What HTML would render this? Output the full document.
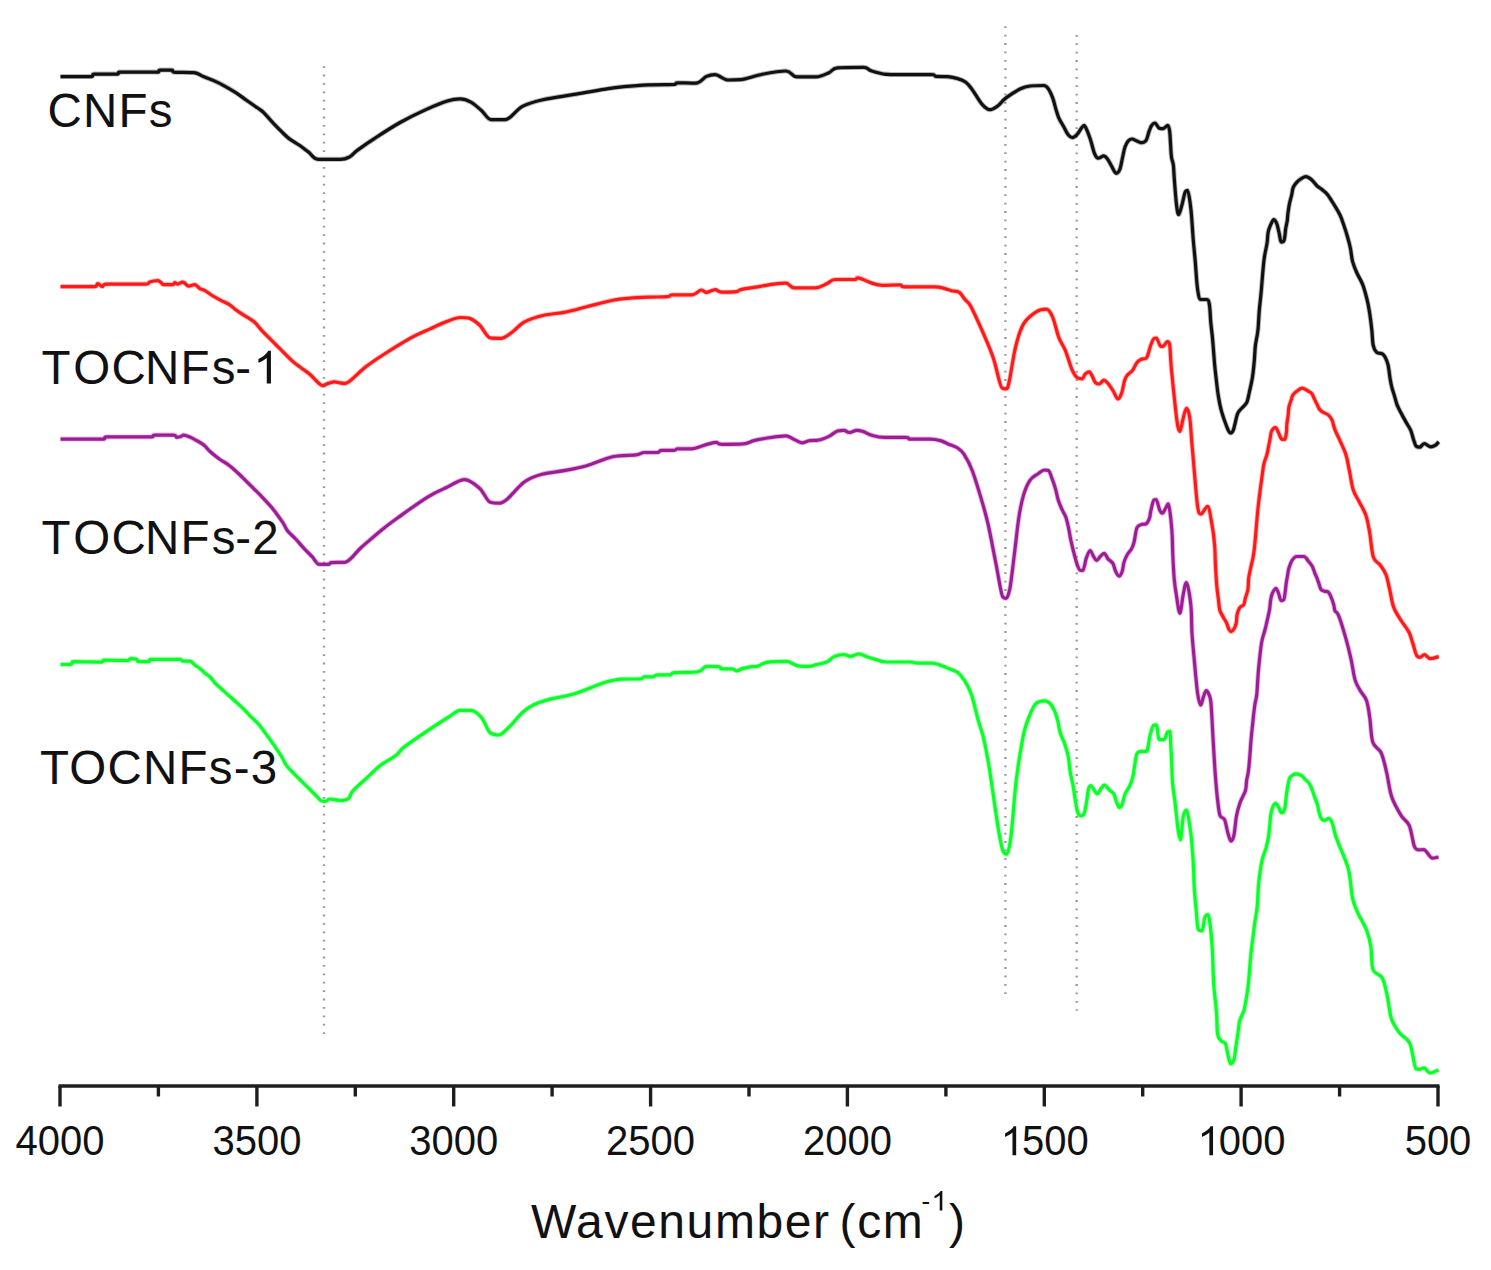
<!DOCTYPE html>
<html><head><meta charset="utf-8"><style>
html,body{margin:0;padding:0;background:#fff;}
body{width:1491px;height:1270px;overflow:hidden;}
svg{display:block;}
text{font-family:"Liberation Sans",sans-serif;fill:#111;}
.tk{font-size:40px;}
.lb{font-size:47.5px;letter-spacing:1.2px;}
.ttl{font-size:48px;letter-spacing:1.6px;word-spacing:-6px;}
.sup{font-size:26px;letter-spacing:0.8px;}
.hid{fill:none;stroke:none;}
</style></head><body>
<svg width="1491" height="1270" viewBox="0 0 1491 1270">
<rect width="1491" height="1270" fill="#fff"/>
<line x1="324" y1="66.2" x2="324" y2="1034" stroke="#9a9a9a" stroke-width="2.4" stroke-dasharray="1.8 6.6"/>
<line x1="1005.4" y1="26.3" x2="1005.4" y2="994.2" stroke="#9a9a9a" stroke-width="2.4" stroke-dasharray="1.8 6.6"/>
<line x1="1076.7" y1="34.9" x2="1076.7" y2="1010.8" stroke="#9a9a9a" stroke-width="2.4" stroke-dasharray="1.8 6.6"/>
<path fill="none" stroke="#111" stroke-opacity="0.3" stroke-width="5.0" stroke-linejoin="round" stroke-linecap="butt" d="M60.5,76.6 C70.7,76.6 88.2,76.6 91.2,76.6 C94.2,76.6 91.2,74.1 94.2,74.1 C97.2,74.1 115.4,74.1 117.4,74.1 C119.4,74.1 117.4,72.1 119.4,72.1 C121.4,72.1 155.1,72.1 157.6,72.1 C160.1,72.1 157.8,70.1 160.1,70.1 C162.4,70.1 169.7,70.1 171.7,70.1 C173.7,70.1 171.7,71.7 173.7,72.1 C175.7,72.5 188.8,72.1 193.8,72.6 C198.8,73.1 200.2,75.2 203.6,76.6 C207.0,78.0 210.7,79.3 214.3,80.9 C217.9,82.5 221.5,84.3 225.1,86.3 C228.7,88.3 232.2,90.4 235.8,92.7 C239.4,95.0 242.9,97.7 246.5,100.2 C250.1,102.7 254.4,105.7 257.3,107.8 C260.2,109.9 260.9,109.8 263.7,112.6 C266.5,115.4 271.2,121.0 274.4,124.4 C277.6,127.8 280.5,130.6 283.0,133.0 C285.5,135.4 286.6,136.8 289.5,138.9 C292.4,141.0 297.0,143.6 300.2,145.8 C303.4,148.0 305.8,150.0 308.8,152.3 C311.8,154.5 313.1,159.3 318.4,159.3 C323.7,159.3 335.3,159.3 340.5,159.3 C345.7,159.3 346.9,158.3 349.7,156.8 C352.5,155.3 353.1,153.4 357.2,150.4 C361.3,147.4 367.1,143.2 374.3,138.6 C381.5,133.9 391.5,127.3 400.1,122.5 C408.7,117.7 418.0,113.2 425.9,109.6 C433.8,106.0 441.6,102.8 447.3,101.0 C453.0,99.2 456.3,98.9 460.2,98.9 C464.1,98.9 467.3,100.1 470.9,102.1 C474.5,104.1 478.3,107.8 481.7,110.7 C485.1,113.6 487.4,119.7 491.3,119.7 C495.2,119.7 500.1,119.7 505.3,119.7 C510.5,119.7 516.0,109.8 522.4,106.4 C528.8,103.0 534.9,101.5 543.9,99.5 C552.9,97.5 565.4,96.0 576.1,94.2 C586.8,92.4 600.4,89.8 608.3,88.6 C616.2,87.3 616.6,87.3 623.3,86.7 C630.0,86.1 640.1,85.3 648.6,84.9 C657.1,84.5 671.0,84.8 674.3,84.5 C677.6,84.2 674.3,82.8 677.6,82.8 C680.9,82.8 691.0,83.2 695.8,83.2 C700.6,83.2 703.3,77.8 706.5,76.4 C709.7,75.0 711.5,74.6 715.1,74.6 C718.7,74.6 723.7,80.0 728.0,80.0 C732.3,80.0 735.2,80.0 740.9,79.6 C746.6,79.2 754.8,75.6 762.3,74.2 C769.8,72.8 780.3,71.0 786.0,71.0 C791.7,71.0 791.7,76.8 796.7,76.8 C801.7,76.8 810.6,76.8 816.0,76.8 C821.4,76.8 825.3,74.2 828.9,72.7 C832.5,71.2 831.8,68.3 837.5,67.8 C843.2,67.3 857.5,67.3 863.2,67.3 C868.9,67.3 867.1,69.8 871.8,71.0 C876.4,72.2 881.1,74.6 891.1,74.6 C901.1,74.6 927.6,74.6 931.9,74.6 C936.2,74.6 933.5,76.1 936.2,76.4 C938.9,76.7 944.4,76.4 948.0,76.7 C951.6,77.0 954.7,77.7 957.7,78.6 C960.7,79.5 963.4,80.5 965.8,82.3 C968.2,84.1 969.5,86.0 972.2,89.6 C974.9,93.2 979.0,100.8 981.9,104.1 C984.8,107.4 987.2,109.7 989.9,109.7 C992.6,109.7 995.3,107.7 998.0,105.7 C1000.7,103.7 1002.2,100.7 1006.0,97.9 C1009.8,95.1 1016.5,90.8 1020.5,88.8 C1024.5,86.8 1026.2,86.5 1030.1,86.0 C1034.0,85.5 1040.6,85.5 1043.8,85.5 C1047.0,85.5 1047.9,88.3 1049.4,90.6 C1051.0,92.9 1052.0,96.0 1053.1,99.1 C1054.2,102.2 1055.0,106.3 1056.0,109.4 C1057.0,112.5 1057.5,115.1 1058.8,117.9 C1060.0,120.7 1061.9,123.5 1063.5,126.3 C1065.1,129.1 1066.7,132.9 1068.2,134.8 C1069.7,136.7 1070.8,137.6 1072.4,137.6 C1074.0,137.6 1076.1,135.4 1077.6,133.8 C1079.1,132.2 1080.2,129.6 1081.3,128.2 C1082.4,126.8 1083.2,125.4 1084.1,125.4 C1085.0,125.4 1085.8,127.6 1086.9,130.1 C1088.0,132.6 1089.4,136.5 1090.7,140.4 C1092.0,144.3 1093.2,150.5 1094.5,153.5 C1095.8,156.5 1096.7,158.2 1098.2,158.2 C1099.8,158.2 1102.2,155.9 1103.8,155.9 C1105.4,155.9 1106.3,157.6 1107.6,159.2 C1108.9,160.8 1110.0,163.3 1111.4,165.7 C1112.8,168.0 1114.7,173.3 1116.1,173.3 C1117.5,173.3 1118.7,172.2 1119.8,169.5 C1120.9,166.8 1121.7,161.0 1122.6,157.3 C1123.5,153.5 1124.0,149.7 1125.0,147.0 C1126.0,144.3 1127.1,142.2 1128.3,140.9 C1129.5,139.6 1130.6,139.0 1132.0,139.0 C1133.4,139.0 1135.1,140.3 1136.7,140.9 C1138.3,141.5 1139.8,142.7 1141.4,142.7 C1143.0,142.7 1144.8,142.2 1146.1,140.4 C1147.3,138.6 1148.0,134.4 1148.9,131.9 C1149.8,129.4 1150.7,126.9 1151.7,125.4 C1152.7,123.9 1153.8,123.0 1155.0,123.0 C1156.2,123.0 1157.9,127.7 1159.2,128.2 C1160.5,128.7 1161.6,128.7 1163.0,128.7 C1164.4,128.7 1166.6,125.4 1167.7,125.4 C1168.8,125.4 1169.1,128.0 1169.6,131.0 C1170.1,134.0 1170.2,138.8 1170.5,143.2 C1170.8,147.6 1171.0,153.7 1171.5,157.3 C1172.0,160.9 1172.8,161.2 1173.3,164.8 C1173.8,168.4 1173.8,172.2 1174.3,178.9 C1174.8,185.6 1175.8,198.8 1176.5,204.7 C1177.2,210.6 1177.8,214.6 1178.7,214.6 C1179.6,214.6 1180.9,208.5 1182.0,204.7 C1183.1,200.8 1184.5,192.6 1185.4,191.5 C1186.3,190.4 1186.7,190.4 1187.6,190.4 C1188.5,190.4 1190.0,201.2 1190.9,209.1 C1191.8,217.0 1192.4,229.0 1193.1,237.8 C1193.8,246.6 1194.6,253.6 1195.3,262.0 C1196.0,270.4 1196.6,282.2 1197.5,288.5 C1198.4,294.8 1199.1,299.5 1200.7,299.5 C1202.3,299.5 1205.5,299.5 1207.0,299.5 C1208.5,299.5 1208.9,301.5 1209.5,305.2 C1210.1,308.9 1210.2,315.8 1210.7,321.5 C1211.2,327.2 1212.0,332.3 1212.6,339.2 C1213.2,346.1 1213.9,356.2 1214.5,363.1 C1215.1,370.0 1215.8,375.3 1216.4,380.7 C1217.0,386.2 1217.5,390.8 1218.3,395.8 C1219.1,400.8 1220.0,405.9 1221.4,410.9 C1222.8,415.9 1225.0,422.3 1226.5,426.0 C1228.0,429.7 1229.1,433.0 1230.3,433.0 C1231.5,433.0 1232.2,432.9 1233.4,429.8 C1234.6,426.8 1236.1,418.1 1237.2,414.7 C1238.3,411.4 1238.7,411.7 1240.3,409.7 C1241.9,407.7 1245.1,405.4 1246.6,402.7 C1248.1,400.0 1248.1,397.4 1249.1,393.3 C1250.0,389.2 1251.4,383.5 1252.3,378.2 C1253.2,373.0 1253.7,367.2 1254.2,361.8 C1254.7,356.4 1254.8,350.7 1255.4,345.5 C1256.0,340.3 1257.3,336.1 1257.9,330.4 C1258.5,324.7 1258.7,317.8 1259.2,311.5 C1259.7,305.2 1260.3,301.2 1261.1,292.6 C1261.9,284.0 1263.0,268.2 1264.0,260.0 C1265.0,251.8 1266.3,248.2 1267.0,243.6 C1267.7,239.0 1267.6,235.3 1268.1,232.4 C1268.6,229.5 1269.1,228.5 1270.0,226.4 C1270.9,224.3 1272.6,219.6 1273.7,219.6 C1274.8,219.6 1275.8,221.3 1276.7,223.4 C1277.6,225.5 1278.2,229.3 1279.0,232.4 C1279.8,235.5 1280.3,242.1 1281.2,242.1 C1282.1,242.1 1283.5,242.1 1284.2,239.9 C1285.0,237.7 1285.2,231.7 1285.7,228.6 C1286.2,225.5 1286.8,223.6 1287.2,221.1 C1287.6,218.6 1287.5,216.6 1287.9,213.7 C1288.3,210.8 1288.8,207.0 1289.4,203.9 C1290.0,200.8 1291.1,197.6 1291.7,194.9 C1292.3,192.2 1292.3,189.6 1293.2,187.5 C1294.1,185.4 1295.5,183.7 1296.9,182.2 C1298.3,180.7 1299.9,179.4 1301.4,178.5 C1302.9,177.6 1304.2,176.6 1305.9,176.6 C1307.7,176.6 1310.0,178.4 1311.9,180.0 C1313.8,181.6 1315.4,184.4 1317.1,186.0 C1318.8,187.6 1320.2,188.0 1322.0,189.5 C1323.8,191.0 1325.8,192.3 1327.8,194.9 C1329.8,197.5 1332.2,201.6 1334.2,204.9 C1336.2,208.2 1338.2,211.3 1339.9,214.8 C1341.6,218.3 1342.8,222.3 1344.1,226.1 C1345.4,229.9 1346.6,233.7 1347.7,237.5 C1348.8,241.3 1349.7,244.8 1350.5,248.8 C1351.3,252.8 1351.5,257.6 1352.6,261.6 C1353.7,265.6 1355.2,269.2 1356.9,273.0 C1358.6,276.8 1360.9,280.1 1362.6,284.3 C1364.2,288.6 1365.6,293.8 1366.8,298.5 C1368.0,303.2 1368.8,307.5 1369.6,312.7 C1370.4,317.9 1371.2,324.3 1371.8,329.7 C1372.4,335.1 1372.4,341.5 1373.2,345.3 C1374.0,349.1 1375.2,351.0 1376.7,352.4 C1378.2,353.8 1381.0,353.0 1382.4,353.8 C1383.8,354.6 1384.2,355.4 1385.2,357.3 C1386.2,359.2 1387.3,361.7 1388.1,365.1 C1388.9,368.6 1389.4,374.3 1390.0,378.0 C1390.6,381.7 1391.0,384.1 1391.8,387.1 C1392.5,390.1 1393.6,393.1 1394.5,396.1 C1395.4,399.1 1396.0,402.2 1397.2,405.2 C1398.4,408.2 1400.2,411.3 1401.7,414.2 C1403.2,417.1 1404.7,419.7 1406.2,422.4 C1407.7,425.1 1409.6,427.6 1410.8,430.5 C1412.0,433.4 1412.6,436.9 1413.5,439.5 C1414.4,442.1 1415.2,445.4 1416.2,446.3 C1417.2,447.2 1418.5,447.2 1419.8,447.2 C1421.1,447.2 1422.5,443.6 1424.3,443.6 C1426.1,443.6 1428.9,446.8 1430.7,446.8 C1432.5,446.8 1433.9,446.2 1435.2,445.4 C1436.5,444.6 1437.6,443.0 1438.8,441.8"/>
<path fill="none" stroke="#111" stroke-width="3.2" stroke-linejoin="round" stroke-linecap="butt" d="M60.5,76.6 C70.7,76.6 88.2,76.6 91.2,76.6 C94.2,76.6 91.2,74.1 94.2,74.1 C97.2,74.1 115.4,74.1 117.4,74.1 C119.4,74.1 117.4,72.1 119.4,72.1 C121.4,72.1 155.1,72.1 157.6,72.1 C160.1,72.1 157.8,70.1 160.1,70.1 C162.4,70.1 169.7,70.1 171.7,70.1 C173.7,70.1 171.7,71.7 173.7,72.1 C175.7,72.5 188.8,72.1 193.8,72.6 C198.8,73.1 200.2,75.2 203.6,76.6 C207.0,78.0 210.7,79.3 214.3,80.9 C217.9,82.5 221.5,84.3 225.1,86.3 C228.7,88.3 232.2,90.4 235.8,92.7 C239.4,95.0 242.9,97.7 246.5,100.2 C250.1,102.7 254.4,105.7 257.3,107.8 C260.2,109.9 260.9,109.8 263.7,112.6 C266.5,115.4 271.2,121.0 274.4,124.4 C277.6,127.8 280.5,130.6 283.0,133.0 C285.5,135.4 286.6,136.8 289.5,138.9 C292.4,141.0 297.0,143.6 300.2,145.8 C303.4,148.0 305.8,150.0 308.8,152.3 C311.8,154.5 313.1,159.3 318.4,159.3 C323.7,159.3 335.3,159.3 340.5,159.3 C345.7,159.3 346.9,158.3 349.7,156.8 C352.5,155.3 353.1,153.4 357.2,150.4 C361.3,147.4 367.1,143.2 374.3,138.6 C381.5,133.9 391.5,127.3 400.1,122.5 C408.7,117.7 418.0,113.2 425.9,109.6 C433.8,106.0 441.6,102.8 447.3,101.0 C453.0,99.2 456.3,98.9 460.2,98.9 C464.1,98.9 467.3,100.1 470.9,102.1 C474.5,104.1 478.3,107.8 481.7,110.7 C485.1,113.6 487.4,119.7 491.3,119.7 C495.2,119.7 500.1,119.7 505.3,119.7 C510.5,119.7 516.0,109.8 522.4,106.4 C528.8,103.0 534.9,101.5 543.9,99.5 C552.9,97.5 565.4,96.0 576.1,94.2 C586.8,92.4 600.4,89.8 608.3,88.6 C616.2,87.3 616.6,87.3 623.3,86.7 C630.0,86.1 640.1,85.3 648.6,84.9 C657.1,84.5 671.0,84.8 674.3,84.5 C677.6,84.2 674.3,82.8 677.6,82.8 C680.9,82.8 691.0,83.2 695.8,83.2 C700.6,83.2 703.3,77.8 706.5,76.4 C709.7,75.0 711.5,74.6 715.1,74.6 C718.7,74.6 723.7,80.0 728.0,80.0 C732.3,80.0 735.2,80.0 740.9,79.6 C746.6,79.2 754.8,75.6 762.3,74.2 C769.8,72.8 780.3,71.0 786.0,71.0 C791.7,71.0 791.7,76.8 796.7,76.8 C801.7,76.8 810.6,76.8 816.0,76.8 C821.4,76.8 825.3,74.2 828.9,72.7 C832.5,71.2 831.8,68.3 837.5,67.8 C843.2,67.3 857.5,67.3 863.2,67.3 C868.9,67.3 867.1,69.8 871.8,71.0 C876.4,72.2 881.1,74.6 891.1,74.6 C901.1,74.6 927.6,74.6 931.9,74.6 C936.2,74.6 933.5,76.1 936.2,76.4 C938.9,76.7 944.4,76.4 948.0,76.7 C951.6,77.0 954.7,77.7 957.7,78.6 C960.7,79.5 963.4,80.5 965.8,82.3 C968.2,84.1 969.5,86.0 972.2,89.6 C974.9,93.2 979.0,100.8 981.9,104.1 C984.8,107.4 987.2,109.7 989.9,109.7 C992.6,109.7 995.3,107.7 998.0,105.7 C1000.7,103.7 1002.2,100.7 1006.0,97.9 C1009.8,95.1 1016.5,90.8 1020.5,88.8 C1024.5,86.8 1026.2,86.5 1030.1,86.0 C1034.0,85.5 1040.6,85.5 1043.8,85.5 C1047.0,85.5 1047.9,88.3 1049.4,90.6 C1051.0,92.9 1052.0,96.0 1053.1,99.1 C1054.2,102.2 1055.0,106.3 1056.0,109.4 C1057.0,112.5 1057.5,115.1 1058.8,117.9 C1060.0,120.7 1061.9,123.5 1063.5,126.3 C1065.1,129.1 1066.7,132.9 1068.2,134.8 C1069.7,136.7 1070.8,137.6 1072.4,137.6 C1074.0,137.6 1076.1,135.4 1077.6,133.8 C1079.1,132.2 1080.2,129.6 1081.3,128.2 C1082.4,126.8 1083.2,125.4 1084.1,125.4 C1085.0,125.4 1085.8,127.6 1086.9,130.1 C1088.0,132.6 1089.4,136.5 1090.7,140.4 C1092.0,144.3 1093.2,150.5 1094.5,153.5 C1095.8,156.5 1096.7,158.2 1098.2,158.2 C1099.8,158.2 1102.2,155.9 1103.8,155.9 C1105.4,155.9 1106.3,157.6 1107.6,159.2 C1108.9,160.8 1110.0,163.3 1111.4,165.7 C1112.8,168.0 1114.7,173.3 1116.1,173.3 C1117.5,173.3 1118.7,172.2 1119.8,169.5 C1120.9,166.8 1121.7,161.0 1122.6,157.3 C1123.5,153.5 1124.0,149.7 1125.0,147.0 C1126.0,144.3 1127.1,142.2 1128.3,140.9 C1129.5,139.6 1130.6,139.0 1132.0,139.0 C1133.4,139.0 1135.1,140.3 1136.7,140.9 C1138.3,141.5 1139.8,142.7 1141.4,142.7 C1143.0,142.7 1144.8,142.2 1146.1,140.4 C1147.3,138.6 1148.0,134.4 1148.9,131.9 C1149.8,129.4 1150.7,126.9 1151.7,125.4 C1152.7,123.9 1153.8,123.0 1155.0,123.0 C1156.2,123.0 1157.9,127.7 1159.2,128.2 C1160.5,128.7 1161.6,128.7 1163.0,128.7 C1164.4,128.7 1166.6,125.4 1167.7,125.4 C1168.8,125.4 1169.1,128.0 1169.6,131.0 C1170.1,134.0 1170.2,138.8 1170.5,143.2 C1170.8,147.6 1171.0,153.7 1171.5,157.3 C1172.0,160.9 1172.8,161.2 1173.3,164.8 C1173.8,168.4 1173.8,172.2 1174.3,178.9 C1174.8,185.6 1175.8,198.8 1176.5,204.7 C1177.2,210.6 1177.8,214.6 1178.7,214.6 C1179.6,214.6 1180.9,208.5 1182.0,204.7 C1183.1,200.8 1184.5,192.6 1185.4,191.5 C1186.3,190.4 1186.7,190.4 1187.6,190.4 C1188.5,190.4 1190.0,201.2 1190.9,209.1 C1191.8,217.0 1192.4,229.0 1193.1,237.8 C1193.8,246.6 1194.6,253.6 1195.3,262.0 C1196.0,270.4 1196.6,282.2 1197.5,288.5 C1198.4,294.8 1199.1,299.5 1200.7,299.5 C1202.3,299.5 1205.5,299.5 1207.0,299.5 C1208.5,299.5 1208.9,301.5 1209.5,305.2 C1210.1,308.9 1210.2,315.8 1210.7,321.5 C1211.2,327.2 1212.0,332.3 1212.6,339.2 C1213.2,346.1 1213.9,356.2 1214.5,363.1 C1215.1,370.0 1215.8,375.3 1216.4,380.7 C1217.0,386.2 1217.5,390.8 1218.3,395.8 C1219.1,400.8 1220.0,405.9 1221.4,410.9 C1222.8,415.9 1225.0,422.3 1226.5,426.0 C1228.0,429.7 1229.1,433.0 1230.3,433.0 C1231.5,433.0 1232.2,432.9 1233.4,429.8 C1234.6,426.8 1236.1,418.1 1237.2,414.7 C1238.3,411.4 1238.7,411.7 1240.3,409.7 C1241.9,407.7 1245.1,405.4 1246.6,402.7 C1248.1,400.0 1248.1,397.4 1249.1,393.3 C1250.0,389.2 1251.4,383.5 1252.3,378.2 C1253.2,373.0 1253.7,367.2 1254.2,361.8 C1254.7,356.4 1254.8,350.7 1255.4,345.5 C1256.0,340.3 1257.3,336.1 1257.9,330.4 C1258.5,324.7 1258.7,317.8 1259.2,311.5 C1259.7,305.2 1260.3,301.2 1261.1,292.6 C1261.9,284.0 1263.0,268.2 1264.0,260.0 C1265.0,251.8 1266.3,248.2 1267.0,243.6 C1267.7,239.0 1267.6,235.3 1268.1,232.4 C1268.6,229.5 1269.1,228.5 1270.0,226.4 C1270.9,224.3 1272.6,219.6 1273.7,219.6 C1274.8,219.6 1275.8,221.3 1276.7,223.4 C1277.6,225.5 1278.2,229.3 1279.0,232.4 C1279.8,235.5 1280.3,242.1 1281.2,242.1 C1282.1,242.1 1283.5,242.1 1284.2,239.9 C1285.0,237.7 1285.2,231.7 1285.7,228.6 C1286.2,225.5 1286.8,223.6 1287.2,221.1 C1287.6,218.6 1287.5,216.6 1287.9,213.7 C1288.3,210.8 1288.8,207.0 1289.4,203.9 C1290.0,200.8 1291.1,197.6 1291.7,194.9 C1292.3,192.2 1292.3,189.6 1293.2,187.5 C1294.1,185.4 1295.5,183.7 1296.9,182.2 C1298.3,180.7 1299.9,179.4 1301.4,178.5 C1302.9,177.6 1304.2,176.6 1305.9,176.6 C1307.7,176.6 1310.0,178.4 1311.9,180.0 C1313.8,181.6 1315.4,184.4 1317.1,186.0 C1318.8,187.6 1320.2,188.0 1322.0,189.5 C1323.8,191.0 1325.8,192.3 1327.8,194.9 C1329.8,197.5 1332.2,201.6 1334.2,204.9 C1336.2,208.2 1338.2,211.3 1339.9,214.8 C1341.6,218.3 1342.8,222.3 1344.1,226.1 C1345.4,229.9 1346.6,233.7 1347.7,237.5 C1348.8,241.3 1349.7,244.8 1350.5,248.8 C1351.3,252.8 1351.5,257.6 1352.6,261.6 C1353.7,265.6 1355.2,269.2 1356.9,273.0 C1358.6,276.8 1360.9,280.1 1362.6,284.3 C1364.2,288.6 1365.6,293.8 1366.8,298.5 C1368.0,303.2 1368.8,307.5 1369.6,312.7 C1370.4,317.9 1371.2,324.3 1371.8,329.7 C1372.4,335.1 1372.4,341.5 1373.2,345.3 C1374.0,349.1 1375.2,351.0 1376.7,352.4 C1378.2,353.8 1381.0,353.0 1382.4,353.8 C1383.8,354.6 1384.2,355.4 1385.2,357.3 C1386.2,359.2 1387.3,361.7 1388.1,365.1 C1388.9,368.6 1389.4,374.3 1390.0,378.0 C1390.6,381.7 1391.0,384.1 1391.8,387.1 C1392.5,390.1 1393.6,393.1 1394.5,396.1 C1395.4,399.1 1396.0,402.2 1397.2,405.2 C1398.4,408.2 1400.2,411.3 1401.7,414.2 C1403.2,417.1 1404.7,419.7 1406.2,422.4 C1407.7,425.1 1409.6,427.6 1410.8,430.5 C1412.0,433.4 1412.6,436.9 1413.5,439.5 C1414.4,442.1 1415.2,445.4 1416.2,446.3 C1417.2,447.2 1418.5,447.2 1419.8,447.2 C1421.1,447.2 1422.5,443.6 1424.3,443.6 C1426.1,443.6 1428.9,446.8 1430.7,446.8 C1432.5,446.8 1433.9,446.2 1435.2,445.4 C1436.5,444.6 1437.6,443.0 1438.8,441.8"/>
<path fill="none" stroke="#ff1a1a" stroke-opacity="0.3" stroke-width="5.0" stroke-linejoin="round" stroke-linecap="butt" d="M60.5,286.6 C71.7,286.6 90.6,286.6 94.2,286.6 C97.8,286.6 96.5,283.6 97.8,283.6 C99.1,283.6 100.9,286.6 102.3,286.6 C103.7,286.6 102.3,284.1 106.3,284.1 C110.3,284.1 143.4,284.1 146.5,284.1 C149.6,284.1 147.8,282.7 149.6,282.1 C151.4,281.5 155.6,280.6 157.6,280.6 C159.6,280.6 160.6,282.4 161.6,283.1 C162.6,283.8 161.8,284.6 163.7,284.6 C165.5,284.6 170.9,284.6 172.7,284.6 C174.5,284.6 173.9,282.6 174.7,282.6 C175.5,282.6 176.3,284.1 177.7,284.1 C179.0,284.1 181.0,282.1 182.8,282.1 C184.7,282.1 186.8,286.1 188.8,286.1 C190.8,286.1 193.0,284.6 194.8,284.6 C196.7,284.6 198.2,287.6 199.9,288.6 C201.6,289.6 202.9,289.5 205.0,290.6 C207.1,291.8 209.6,293.9 212.2,295.5 C214.8,297.1 217.9,298.8 220.8,300.3 C223.7,301.8 227.1,303.2 229.4,304.6 C231.7,306.0 232.6,307.3 234.7,308.9 C236.8,310.5 239.0,312.1 242.2,314.2 C245.4,316.3 250.8,319.0 254.0,321.7 C257.2,324.4 258.7,327.2 261.6,330.3 C264.5,333.4 268.2,336.9 271.2,340.0 C274.2,343.1 276.2,345.0 279.8,348.6 C283.4,352.2 289.1,358.2 292.7,361.4 C296.3,364.6 298.4,365.8 301.3,367.9 C304.2,370.1 307.0,371.8 309.8,374.3 C312.6,376.8 316.2,381.0 318.4,382.9 C320.5,384.8 321.1,385.6 322.7,385.6 C324.3,385.6 326.1,384.0 328.1,383.4 C330.1,382.8 332.5,381.8 334.5,381.8 C336.5,381.8 338.3,382.6 340.0,382.9 C341.7,383.2 343.6,383.4 344.8,383.4 C346.1,383.4 344.8,383.4 347.5,382.5 C350.2,381.6 359.9,371.4 365.8,366.8 C371.7,362.2 375.4,359.8 382.9,355.0 C390.4,350.2 402.9,342.2 410.8,337.9 C418.7,333.6 424.0,331.7 430.1,328.9 C436.2,326.1 442.3,323.2 447.3,321.3 C452.3,319.4 456.6,317.5 460.2,317.5 C463.8,317.5 465.6,317.5 468.8,318.1 C472.0,318.7 475.9,321.7 479.5,325.0 C483.1,328.3 486.6,337.5 490.2,337.9 C493.8,338.3 497.4,338.3 501.0,338.3 C504.6,338.3 507.8,335.2 511.7,332.5 C515.6,329.8 519.2,324.7 524.6,321.8 C530.0,318.9 537.1,316.9 543.9,315.3 C550.7,313.7 558.2,313.5 565.4,312.1 C572.5,310.7 578.9,308.7 586.8,306.7 C594.7,304.7 605.4,301.7 612.6,300.3 C619.8,298.9 623.8,298.7 629.8,298.2 C635.8,297.7 642.2,297.4 648.6,297.1 C655.0,296.9 664.0,297.1 667.9,296.7 C671.8,296.3 668.3,294.9 672.2,294.9 C676.1,294.9 686.7,294.9 691.5,294.9 C696.3,294.9 698.7,290.0 701.2,290.0 C703.7,290.0 704.2,292.4 706.5,292.4 C708.8,292.4 712.6,289.6 715.1,289.6 C717.6,289.6 718.0,292.2 721.6,292.2 C725.2,292.2 733.4,292.1 736.6,291.7 C739.8,291.3 737.0,290.5 740.9,289.6 C744.8,288.7 754.8,287.3 760.2,286.4 C765.6,285.5 768.8,284.8 773.1,284.2 C777.4,283.7 782.4,283.1 786.0,283.1 C789.6,283.1 789.7,287.9 794.5,287.9 C799.3,287.9 809.5,287.9 814.9,287.9 C820.3,287.9 823.3,285.2 826.7,283.8 C830.1,282.4 830.6,279.5 835.3,279.5 C839.9,279.5 851.3,279.5 854.6,279.5 C857.9,279.5 855.0,277.8 857.9,277.8 C860.8,277.8 867.7,281.9 871.8,283.1 C875.9,284.4 877.9,285.3 882.5,285.3 C887.1,285.3 896.1,284.9 899.7,284.9 C903.3,284.9 899.7,286.8 904.0,286.8 C908.3,286.8 927.3,286.8 934.1,286.8 C940.9,286.8 941.9,288.0 944.8,288.6 C947.7,289.2 948.9,290.1 951.3,290.7 C953.7,291.3 957.0,290.8 959.3,292.3 C961.6,293.8 963.1,297.3 965.0,299.6 C966.9,301.9 967.8,300.9 970.6,306.0 C973.4,311.1 978.1,321.6 981.9,330.2 C985.6,338.8 989.8,347.9 993.1,357.5 C996.5,367.1 999.9,387.3 1002.0,388.1 C1004.1,388.9 1004.8,388.9 1006.0,388.9 C1007.2,388.9 1007.6,388.8 1009.2,381.7 C1010.8,374.6 1013.3,356.0 1015.7,346.3 C1018.1,336.6 1020.2,329.5 1023.7,323.7 C1027.2,317.9 1032.8,314.0 1036.6,311.6 C1040.3,309.2 1043.5,309.2 1046.2,309.2 C1048.9,309.2 1050.6,312.6 1052.7,317.3 C1054.8,322.0 1056.7,331.9 1058.8,337.5 C1060.9,343.1 1063.2,345.3 1065.4,350.6 C1067.6,355.9 1069.9,364.9 1071.9,369.4 C1073.9,374.0 1075.9,377.0 1077.6,377.9 C1079.3,378.8 1081.0,378.8 1082.3,378.8 C1083.5,378.8 1083.9,375.3 1085.1,374.1 C1086.3,372.9 1088.0,371.8 1089.3,371.8 C1090.5,371.8 1091.6,375.1 1092.6,376.9 C1093.6,378.7 1094.3,381.4 1095.4,382.6 C1096.5,383.8 1097.8,384.0 1099.2,384.0 C1100.6,384.0 1102.4,380.2 1103.8,380.2 C1105.2,380.2 1106.0,381.2 1107.6,383.0 C1109.2,384.8 1111.5,388.3 1113.2,391.0 C1114.9,393.7 1116.5,399.0 1117.9,399.0 C1119.3,399.0 1120.6,396.0 1121.7,392.9 C1122.8,389.9 1123.6,383.7 1124.5,380.7 C1125.4,377.7 1126.0,376.8 1127.3,375.1 C1128.6,373.4 1130.9,372.4 1132.5,370.4 C1134.1,368.4 1135.4,364.7 1136.7,362.9 C1138.0,361.1 1138.9,360.4 1140.5,359.6 C1142.1,358.8 1144.8,359.1 1146.1,358.2 C1147.3,357.3 1147.2,356.6 1148.0,354.4 C1148.8,352.2 1149.8,347.7 1150.8,345.0 C1151.8,342.3 1153.2,338.8 1154.1,338.4 C1155.0,338.0 1155.3,338.0 1156.4,338.0 C1157.5,338.0 1159.6,346.4 1160.7,346.4 C1161.8,346.4 1161.9,346.4 1163.0,346.4 C1164.1,346.4 1166.1,341.7 1167.2,341.7 C1168.3,341.7 1169.0,341.7 1169.6,344.1 C1170.1,346.5 1170.2,352.0 1170.5,356.3 C1170.8,360.6 1171.0,364.8 1171.5,370.1 C1172.0,375.4 1172.6,381.7 1173.3,388.2 C1174.0,394.7 1174.8,402.8 1175.5,408.9 C1176.2,415.1 1176.9,421.3 1177.6,425.1 C1178.3,428.9 1179.0,431.5 1179.9,431.5 C1180.8,431.5 1182.1,422.1 1183.2,418.2 C1184.3,414.3 1185.4,408.3 1186.5,408.3 C1187.6,408.3 1188.9,412.1 1189.8,418.2 C1190.7,424.3 1191.2,435.9 1192.0,444.7 C1192.8,453.5 1193.4,460.8 1194.3,471.1 C1195.2,481.4 1196.5,499.2 1197.6,506.4 C1198.7,513.6 1199.2,514.1 1200.9,514.1 C1202.6,514.1 1205.7,506.4 1207.5,506.4 C1209.3,506.4 1210.7,517.7 1211.9,524.1 C1213.1,530.5 1214.0,538.0 1214.6,545.0 C1215.2,552.0 1215.1,559.2 1215.5,566.0 C1215.9,572.8 1216.3,580.3 1216.8,586.0 C1217.3,591.7 1218.0,596.0 1218.5,600.0 C1219.0,604.0 1219.0,607.4 1219.8,610.2 C1220.6,613.0 1222.0,614.8 1223.1,616.9 C1224.2,619.0 1225.4,620.5 1226.4,622.6 C1227.4,624.7 1228.1,627.8 1228.9,629.3 C1229.7,630.8 1230.2,631.7 1231.0,631.7 C1231.8,631.7 1232.9,630.8 1233.8,629.3 C1234.7,627.8 1235.8,625.1 1236.3,622.6 C1236.8,620.1 1236.5,616.9 1237.1,614.4 C1237.6,611.9 1238.5,609.5 1239.6,607.8 C1240.7,606.2 1242.8,606.1 1243.8,604.5 C1244.8,602.9 1244.7,600.4 1245.4,597.9 C1246.1,595.4 1247.4,592.9 1247.9,589.6 C1248.5,586.3 1248.2,581.7 1248.7,578.0 C1249.2,574.3 1250.1,570.6 1250.8,567.3 C1251.5,564.0 1252.3,561.2 1252.9,558.2 C1253.5,555.2 1253.9,552.0 1254.3,549.0 C1254.7,546.0 1254.5,547.1 1255.2,540.0 C1255.9,532.9 1256.9,518.1 1258.2,506.4 C1259.5,494.7 1261.9,477.4 1262.9,470.0 C1263.9,462.6 1263.8,464.6 1264.4,462.1 C1265.1,459.6 1266.1,457.5 1266.8,455.0 C1267.5,452.5 1267.9,449.8 1268.4,447.2 C1268.9,444.6 1269.5,441.9 1270.0,439.3 C1270.5,436.7 1270.6,433.4 1271.5,431.4 C1272.4,429.4 1274.3,427.5 1275.5,427.5 C1276.7,427.5 1277.5,431.0 1278.6,433.0 C1279.6,435.0 1280.8,439.3 1281.8,439.3 C1282.8,439.3 1284.1,439.3 1284.9,439.3 C1285.7,439.3 1286.2,434.0 1286.5,431.4 C1286.8,428.8 1286.6,426.1 1286.9,423.5 C1287.2,420.9 1287.8,418.5 1288.1,415.7 C1288.4,413.0 1288.4,409.6 1288.9,407.0 C1289.4,404.4 1290.6,401.9 1291.2,399.9 C1291.8,397.9 1291.9,396.6 1292.8,395.2 C1293.7,393.8 1295.1,392.5 1296.7,391.3 C1298.3,390.1 1300.2,388.1 1302.2,388.1 C1304.2,388.1 1306.9,390.4 1308.5,391.3 C1310.1,392.2 1310.7,392.2 1311.7,393.6 C1312.8,395.0 1313.9,398.1 1314.8,399.9 C1315.7,401.7 1316.4,403.0 1317.2,404.6 C1318.0,406.2 1318.5,408.1 1319.6,409.4 C1320.6,410.7 1322.1,411.6 1323.5,412.5 C1324.9,413.4 1326.8,413.6 1328.2,414.9 C1329.7,416.2 1331.1,417.9 1332.2,420.4 C1333.3,422.9 1332.8,424.4 1335.0,429.8 C1337.2,435.2 1343.0,446.3 1345.4,453.1 C1347.8,459.9 1348.0,464.4 1349.3,470.5 C1350.6,476.6 1351.6,484.7 1353.2,489.8 C1354.8,494.9 1356.8,497.1 1358.9,501.3 C1361.0,505.5 1363.9,509.7 1365.7,514.8 C1367.5,520.0 1368.3,525.1 1369.6,532.2 C1370.9,539.3 1371.6,551.8 1373.4,557.3 C1375.2,562.8 1378.1,562.1 1380.2,565.0 C1382.3,567.9 1384.4,570.5 1386.0,574.7 C1387.6,578.9 1388.5,584.7 1389.8,590.1 C1391.1,595.5 1391.8,602.2 1393.7,607.4 C1395.6,612.5 1398.8,616.8 1401.4,621.0 C1404.0,625.2 1407.2,628.6 1409.1,632.5 C1411.0,636.4 1411.7,640.2 1413.0,644.1 C1414.3,648.0 1415.6,654.1 1416.8,655.7 C1418.0,657.3 1418.7,657.3 1420.0,657.3 C1421.3,657.3 1422.8,654.7 1424.5,654.7 C1426.2,654.7 1427.9,658.6 1430.3,658.6 C1432.7,658.6 1436.0,657.3 1438.8,656.6"/>
<path fill="none" stroke="#ff1a1a" stroke-width="3.2" stroke-linejoin="round" stroke-linecap="butt" d="M60.5,286.6 C71.7,286.6 90.6,286.6 94.2,286.6 C97.8,286.6 96.5,283.6 97.8,283.6 C99.1,283.6 100.9,286.6 102.3,286.6 C103.7,286.6 102.3,284.1 106.3,284.1 C110.3,284.1 143.4,284.1 146.5,284.1 C149.6,284.1 147.8,282.7 149.6,282.1 C151.4,281.5 155.6,280.6 157.6,280.6 C159.6,280.6 160.6,282.4 161.6,283.1 C162.6,283.8 161.8,284.6 163.7,284.6 C165.5,284.6 170.9,284.6 172.7,284.6 C174.5,284.6 173.9,282.6 174.7,282.6 C175.5,282.6 176.3,284.1 177.7,284.1 C179.0,284.1 181.0,282.1 182.8,282.1 C184.7,282.1 186.8,286.1 188.8,286.1 C190.8,286.1 193.0,284.6 194.8,284.6 C196.7,284.6 198.2,287.6 199.9,288.6 C201.6,289.6 202.9,289.5 205.0,290.6 C207.1,291.8 209.6,293.9 212.2,295.5 C214.8,297.1 217.9,298.8 220.8,300.3 C223.7,301.8 227.1,303.2 229.4,304.6 C231.7,306.0 232.6,307.3 234.7,308.9 C236.8,310.5 239.0,312.1 242.2,314.2 C245.4,316.3 250.8,319.0 254.0,321.7 C257.2,324.4 258.7,327.2 261.6,330.3 C264.5,333.4 268.2,336.9 271.2,340.0 C274.2,343.1 276.2,345.0 279.8,348.6 C283.4,352.2 289.1,358.2 292.7,361.4 C296.3,364.6 298.4,365.8 301.3,367.9 C304.2,370.1 307.0,371.8 309.8,374.3 C312.6,376.8 316.2,381.0 318.4,382.9 C320.5,384.8 321.1,385.6 322.7,385.6 C324.3,385.6 326.1,384.0 328.1,383.4 C330.1,382.8 332.5,381.8 334.5,381.8 C336.5,381.8 338.3,382.6 340.0,382.9 C341.7,383.2 343.6,383.4 344.8,383.4 C346.1,383.4 344.8,383.4 347.5,382.5 C350.2,381.6 359.9,371.4 365.8,366.8 C371.7,362.2 375.4,359.8 382.9,355.0 C390.4,350.2 402.9,342.2 410.8,337.9 C418.7,333.6 424.0,331.7 430.1,328.9 C436.2,326.1 442.3,323.2 447.3,321.3 C452.3,319.4 456.6,317.5 460.2,317.5 C463.8,317.5 465.6,317.5 468.8,318.1 C472.0,318.7 475.9,321.7 479.5,325.0 C483.1,328.3 486.6,337.5 490.2,337.9 C493.8,338.3 497.4,338.3 501.0,338.3 C504.6,338.3 507.8,335.2 511.7,332.5 C515.6,329.8 519.2,324.7 524.6,321.8 C530.0,318.9 537.1,316.9 543.9,315.3 C550.7,313.7 558.2,313.5 565.4,312.1 C572.5,310.7 578.9,308.7 586.8,306.7 C594.7,304.7 605.4,301.7 612.6,300.3 C619.8,298.9 623.8,298.7 629.8,298.2 C635.8,297.7 642.2,297.4 648.6,297.1 C655.0,296.9 664.0,297.1 667.9,296.7 C671.8,296.3 668.3,294.9 672.2,294.9 C676.1,294.9 686.7,294.9 691.5,294.9 C696.3,294.9 698.7,290.0 701.2,290.0 C703.7,290.0 704.2,292.4 706.5,292.4 C708.8,292.4 712.6,289.6 715.1,289.6 C717.6,289.6 718.0,292.2 721.6,292.2 C725.2,292.2 733.4,292.1 736.6,291.7 C739.8,291.3 737.0,290.5 740.9,289.6 C744.8,288.7 754.8,287.3 760.2,286.4 C765.6,285.5 768.8,284.8 773.1,284.2 C777.4,283.7 782.4,283.1 786.0,283.1 C789.6,283.1 789.7,287.9 794.5,287.9 C799.3,287.9 809.5,287.9 814.9,287.9 C820.3,287.9 823.3,285.2 826.7,283.8 C830.1,282.4 830.6,279.5 835.3,279.5 C839.9,279.5 851.3,279.5 854.6,279.5 C857.9,279.5 855.0,277.8 857.9,277.8 C860.8,277.8 867.7,281.9 871.8,283.1 C875.9,284.4 877.9,285.3 882.5,285.3 C887.1,285.3 896.1,284.9 899.7,284.9 C903.3,284.9 899.7,286.8 904.0,286.8 C908.3,286.8 927.3,286.8 934.1,286.8 C940.9,286.8 941.9,288.0 944.8,288.6 C947.7,289.2 948.9,290.1 951.3,290.7 C953.7,291.3 957.0,290.8 959.3,292.3 C961.6,293.8 963.1,297.3 965.0,299.6 C966.9,301.9 967.8,300.9 970.6,306.0 C973.4,311.1 978.1,321.6 981.9,330.2 C985.6,338.8 989.8,347.9 993.1,357.5 C996.5,367.1 999.9,387.3 1002.0,388.1 C1004.1,388.9 1004.8,388.9 1006.0,388.9 C1007.2,388.9 1007.6,388.8 1009.2,381.7 C1010.8,374.6 1013.3,356.0 1015.7,346.3 C1018.1,336.6 1020.2,329.5 1023.7,323.7 C1027.2,317.9 1032.8,314.0 1036.6,311.6 C1040.3,309.2 1043.5,309.2 1046.2,309.2 C1048.9,309.2 1050.6,312.6 1052.7,317.3 C1054.8,322.0 1056.7,331.9 1058.8,337.5 C1060.9,343.1 1063.2,345.3 1065.4,350.6 C1067.6,355.9 1069.9,364.9 1071.9,369.4 C1073.9,374.0 1075.9,377.0 1077.6,377.9 C1079.3,378.8 1081.0,378.8 1082.3,378.8 C1083.5,378.8 1083.9,375.3 1085.1,374.1 C1086.3,372.9 1088.0,371.8 1089.3,371.8 C1090.5,371.8 1091.6,375.1 1092.6,376.9 C1093.6,378.7 1094.3,381.4 1095.4,382.6 C1096.5,383.8 1097.8,384.0 1099.2,384.0 C1100.6,384.0 1102.4,380.2 1103.8,380.2 C1105.2,380.2 1106.0,381.2 1107.6,383.0 C1109.2,384.8 1111.5,388.3 1113.2,391.0 C1114.9,393.7 1116.5,399.0 1117.9,399.0 C1119.3,399.0 1120.6,396.0 1121.7,392.9 C1122.8,389.9 1123.6,383.7 1124.5,380.7 C1125.4,377.7 1126.0,376.8 1127.3,375.1 C1128.6,373.4 1130.9,372.4 1132.5,370.4 C1134.1,368.4 1135.4,364.7 1136.7,362.9 C1138.0,361.1 1138.9,360.4 1140.5,359.6 C1142.1,358.8 1144.8,359.1 1146.1,358.2 C1147.3,357.3 1147.2,356.6 1148.0,354.4 C1148.8,352.2 1149.8,347.7 1150.8,345.0 C1151.8,342.3 1153.2,338.8 1154.1,338.4 C1155.0,338.0 1155.3,338.0 1156.4,338.0 C1157.5,338.0 1159.6,346.4 1160.7,346.4 C1161.8,346.4 1161.9,346.4 1163.0,346.4 C1164.1,346.4 1166.1,341.7 1167.2,341.7 C1168.3,341.7 1169.0,341.7 1169.6,344.1 C1170.1,346.5 1170.2,352.0 1170.5,356.3 C1170.8,360.6 1171.0,364.8 1171.5,370.1 C1172.0,375.4 1172.6,381.7 1173.3,388.2 C1174.0,394.7 1174.8,402.8 1175.5,408.9 C1176.2,415.1 1176.9,421.3 1177.6,425.1 C1178.3,428.9 1179.0,431.5 1179.9,431.5 C1180.8,431.5 1182.1,422.1 1183.2,418.2 C1184.3,414.3 1185.4,408.3 1186.5,408.3 C1187.6,408.3 1188.9,412.1 1189.8,418.2 C1190.7,424.3 1191.2,435.9 1192.0,444.7 C1192.8,453.5 1193.4,460.8 1194.3,471.1 C1195.2,481.4 1196.5,499.2 1197.6,506.4 C1198.7,513.6 1199.2,514.1 1200.9,514.1 C1202.6,514.1 1205.7,506.4 1207.5,506.4 C1209.3,506.4 1210.7,517.7 1211.9,524.1 C1213.1,530.5 1214.0,538.0 1214.6,545.0 C1215.2,552.0 1215.1,559.2 1215.5,566.0 C1215.9,572.8 1216.3,580.3 1216.8,586.0 C1217.3,591.7 1218.0,596.0 1218.5,600.0 C1219.0,604.0 1219.0,607.4 1219.8,610.2 C1220.6,613.0 1222.0,614.8 1223.1,616.9 C1224.2,619.0 1225.4,620.5 1226.4,622.6 C1227.4,624.7 1228.1,627.8 1228.9,629.3 C1229.7,630.8 1230.2,631.7 1231.0,631.7 C1231.8,631.7 1232.9,630.8 1233.8,629.3 C1234.7,627.8 1235.8,625.1 1236.3,622.6 C1236.8,620.1 1236.5,616.9 1237.1,614.4 C1237.6,611.9 1238.5,609.5 1239.6,607.8 C1240.7,606.2 1242.8,606.1 1243.8,604.5 C1244.8,602.9 1244.7,600.4 1245.4,597.9 C1246.1,595.4 1247.4,592.9 1247.9,589.6 C1248.5,586.3 1248.2,581.7 1248.7,578.0 C1249.2,574.3 1250.1,570.6 1250.8,567.3 C1251.5,564.0 1252.3,561.2 1252.9,558.2 C1253.5,555.2 1253.9,552.0 1254.3,549.0 C1254.7,546.0 1254.5,547.1 1255.2,540.0 C1255.9,532.9 1256.9,518.1 1258.2,506.4 C1259.5,494.7 1261.9,477.4 1262.9,470.0 C1263.9,462.6 1263.8,464.6 1264.4,462.1 C1265.1,459.6 1266.1,457.5 1266.8,455.0 C1267.5,452.5 1267.9,449.8 1268.4,447.2 C1268.9,444.6 1269.5,441.9 1270.0,439.3 C1270.5,436.7 1270.6,433.4 1271.5,431.4 C1272.4,429.4 1274.3,427.5 1275.5,427.5 C1276.7,427.5 1277.5,431.0 1278.6,433.0 C1279.6,435.0 1280.8,439.3 1281.8,439.3 C1282.8,439.3 1284.1,439.3 1284.9,439.3 C1285.7,439.3 1286.2,434.0 1286.5,431.4 C1286.8,428.8 1286.6,426.1 1286.9,423.5 C1287.2,420.9 1287.8,418.5 1288.1,415.7 C1288.4,413.0 1288.4,409.6 1288.9,407.0 C1289.4,404.4 1290.6,401.9 1291.2,399.9 C1291.8,397.9 1291.9,396.6 1292.8,395.2 C1293.7,393.8 1295.1,392.5 1296.7,391.3 C1298.3,390.1 1300.2,388.1 1302.2,388.1 C1304.2,388.1 1306.9,390.4 1308.5,391.3 C1310.1,392.2 1310.7,392.2 1311.7,393.6 C1312.8,395.0 1313.9,398.1 1314.8,399.9 C1315.7,401.7 1316.4,403.0 1317.2,404.6 C1318.0,406.2 1318.5,408.1 1319.6,409.4 C1320.6,410.7 1322.1,411.6 1323.5,412.5 C1324.9,413.4 1326.8,413.6 1328.2,414.9 C1329.7,416.2 1331.1,417.9 1332.2,420.4 C1333.3,422.9 1332.8,424.4 1335.0,429.8 C1337.2,435.2 1343.0,446.3 1345.4,453.1 C1347.8,459.9 1348.0,464.4 1349.3,470.5 C1350.6,476.6 1351.6,484.7 1353.2,489.8 C1354.8,494.9 1356.8,497.1 1358.9,501.3 C1361.0,505.5 1363.9,509.7 1365.7,514.8 C1367.5,520.0 1368.3,525.1 1369.6,532.2 C1370.9,539.3 1371.6,551.8 1373.4,557.3 C1375.2,562.8 1378.1,562.1 1380.2,565.0 C1382.3,567.9 1384.4,570.5 1386.0,574.7 C1387.6,578.9 1388.5,584.7 1389.8,590.1 C1391.1,595.5 1391.8,602.2 1393.7,607.4 C1395.6,612.5 1398.8,616.8 1401.4,621.0 C1404.0,625.2 1407.2,628.6 1409.1,632.5 C1411.0,636.4 1411.7,640.2 1413.0,644.1 C1414.3,648.0 1415.6,654.1 1416.8,655.7 C1418.0,657.3 1418.7,657.3 1420.0,657.3 C1421.3,657.3 1422.8,654.7 1424.5,654.7 C1426.2,654.7 1427.9,658.6 1430.3,658.6 C1432.7,658.6 1436.0,657.3 1438.8,656.6"/>
<path fill="none" stroke="#9e1c96" stroke-opacity="0.3" stroke-width="5.0" stroke-linejoin="round" stroke-linecap="butt" d="M60.5,439.1 C74.8,439.1 100.3,439.1 103.3,439.1 C106.3,439.1 103.3,436.9 106.3,436.9 C109.3,436.9 148.6,436.9 151.6,436.9 C154.6,436.9 151.6,435.1 154.6,435.1 C157.6,435.1 170.7,435.1 173.7,435.1 C176.7,435.1 175.5,437.3 176.7,437.3 C177.9,437.3 179.6,437.0 180.8,436.6 C182.0,436.2 182.3,435.1 183.8,435.1 C185.3,435.1 187.8,436.3 189.8,437.1 C191.8,437.9 193.8,439.0 195.8,440.1 C197.8,441.2 200.4,442.6 201.9,443.6 C203.4,444.6 203.7,444.9 205.0,446.1 C206.3,447.3 207.2,448.9 209.5,451.0 C211.8,453.1 215.7,456.3 219.0,458.7 C222.3,461.2 226.3,463.2 229.6,465.7 C232.9,468.3 235.7,470.9 239.0,474.0 C242.3,477.1 245.9,480.9 249.7,484.6 C253.4,488.3 257.6,492.3 261.5,496.4 C265.4,500.5 269.8,505.1 273.3,509.4 C276.8,513.7 280.3,518.9 282.7,522.4 C285.1,525.9 285.3,527.9 287.5,530.7 C289.7,533.5 292.9,536.0 295.7,539.0 C298.4,542.0 301.2,545.4 304.0,548.4 C306.8,551.4 309.6,554.1 312.2,556.7 C314.8,559.4 316.5,564.3 319.3,564.3 C322.1,564.3 326.8,564.3 328.8,564.3 C330.8,564.3 328.8,562.9 331.1,562.6 C333.4,562.3 339.7,562.6 344.8,562.3 C349.9,562.0 355.1,552.8 361.5,547.2 C367.9,541.7 376.5,534.2 382.9,529.0 C389.3,523.8 392.6,521.5 400.1,516.1 C407.6,510.7 420.1,501.6 428.0,496.8 C435.9,492.0 441.2,490.0 447.3,487.1 C453.4,484.2 459.1,479.6 464.5,479.6 C469.9,479.6 475.2,484.4 479.5,488.2 C483.8,492.0 487.0,501.2 490.2,502.2 C493.4,503.2 495.9,503.2 498.8,503.2 C501.7,503.2 503.1,502.5 507.4,498.9 C511.7,495.3 518.9,485.9 524.6,481.8 C530.3,477.7 535.0,476.2 541.8,474.3 C548.6,472.4 557.9,471.8 565.4,470.4 C572.9,469.0 578.9,468.0 586.8,465.7 C594.7,463.4 604.4,458.5 612.6,456.7 C620.8,454.9 630.9,455.6 636.2,454.9 C641.5,454.2 640.8,452.5 644.3,452.5 C647.8,452.5 654.3,452.5 657.2,452.5 C660.1,452.5 658.6,450.3 661.5,450.3 C664.4,450.3 671.6,450.3 674.3,450.3 C677.0,450.3 674.7,448.8 677.6,448.8 C680.5,448.8 687.8,448.8 691.5,448.8 C695.2,448.8 697.2,447.5 700.1,446.7 C703.0,445.9 706.0,444.6 708.7,443.9 C711.4,443.2 714.1,442.4 716.2,442.4 C718.4,442.4 717.1,444.3 721.6,444.3 C726.1,444.3 737.6,444.3 743.0,443.9 C748.4,443.5 750.2,441.5 753.8,440.6 C757.4,439.7 760.9,439.1 764.5,438.5 C768.1,437.9 771.6,437.2 775.2,436.8 C778.8,436.4 782.8,435.9 786.0,435.9 C789.2,435.9 791.8,438.5 794.5,439.6 C797.2,440.8 799.5,442.8 802.0,442.8 C804.5,442.8 806.9,441.0 809.6,440.6 C812.3,440.2 814.9,440.6 818.1,440.2 C821.3,439.8 825.7,437.9 828.9,436.4 C832.1,434.9 835.0,431.7 837.5,431.0 C840.0,430.3 841.9,430.3 843.9,430.3 C845.9,430.3 847.1,432.5 849.3,432.5 C851.4,432.5 854.5,430.3 856.8,430.3 C859.1,430.3 860.7,430.8 863.2,431.6 C865.7,432.4 868.2,434.3 871.8,435.3 C875.4,436.3 879.0,437.4 884.7,437.4 C890.4,437.4 902.0,437.4 906.2,437.4 C910.4,437.4 906.5,439.1 910.4,439.1 C914.3,439.1 924.8,439.1 929.8,439.1 C934.8,439.1 937.5,439.8 940.5,440.6 C943.5,441.4 945.1,442.7 948.0,443.9 C950.9,445.1 955.0,446.2 957.7,448.0 C960.4,449.8 961.7,450.7 964.1,454.4 C966.5,458.2 969.2,462.7 972.2,470.5 C975.2,478.3 979.2,492.0 981.9,501.1 C984.6,510.2 985.9,514.5 988.3,525.2 C990.7,535.9 993.9,553.5 996.3,565.5 C998.7,577.5 1001.2,595.3 1002.8,596.9 C1004.4,598.5 1004.8,598.5 1006.0,598.5 C1007.2,598.5 1008.7,594.9 1010.0,588.0 C1011.3,581.1 1012.5,569.2 1014.0,557.4 C1015.5,545.6 1017.3,527.7 1018.9,517.2 C1020.5,506.7 1021.8,500.8 1023.7,494.6 C1025.6,488.4 1027.7,483.7 1030.1,480.2 C1032.5,476.7 1035.8,475.4 1038.2,473.7 C1040.6,472.0 1042.5,470.0 1044.2,470.0 C1045.9,470.0 1047.2,470.0 1048.4,470.5 C1049.7,471.0 1050.5,474.5 1051.7,477.6 C1052.9,480.7 1054.4,485.1 1055.5,488.9 C1056.6,492.7 1057.2,496.8 1058.3,500.3 C1059.4,503.8 1060.8,506.9 1062.1,509.7 C1063.4,512.5 1064.8,514.2 1065.9,517.3 C1067.0,520.5 1067.9,525.0 1068.7,528.6 C1069.5,532.2 1069.8,535.2 1070.6,539.0 C1071.4,542.8 1072.4,547.1 1073.5,551.3 C1074.6,555.6 1076.1,561.4 1077.2,564.5 C1078.3,567.6 1079.1,570.0 1080.1,570.2 C1081.1,570.4 1082.0,570.4 1083.0,570.4 C1084.0,570.4 1085.1,561.4 1086.3,558.1 C1087.5,554.8 1088.9,550.5 1090.1,550.5 C1091.3,550.5 1092.3,554.5 1093.4,556.2 C1094.5,557.9 1095.5,560.5 1096.7,560.5 C1097.9,560.5 1099.2,557.4 1100.5,556.2 C1101.8,555.0 1103.0,553.4 1104.3,553.4 C1105.6,553.4 1106.7,557.4 1108.1,559.0 C1109.5,560.6 1111.5,561.2 1112.8,563.3 C1114.0,565.4 1114.6,569.2 1115.6,571.3 C1116.6,573.4 1117.9,576.1 1119.0,576.1 C1120.1,576.1 1121.5,573.3 1122.3,570.9 C1123.1,568.5 1123.2,564.7 1124.1,561.9 C1125.0,559.1 1126.2,556.5 1127.5,554.3 C1128.8,552.1 1130.6,550.7 1131.7,548.6 C1132.8,546.5 1133.2,545.5 1134.1,542.0 C1135.0,538.5 1135.7,530.8 1136.9,527.9 C1138.1,525.0 1139.6,525.3 1141.2,524.6 C1142.8,523.9 1145.0,524.6 1146.4,523.6 C1147.8,522.6 1149.0,519.5 1149.7,517.5 C1150.4,515.5 1149.9,514.7 1150.6,511.8 C1151.3,508.9 1153.0,500.5 1153.9,500.0 C1154.9,499.5 1155.3,499.5 1156.3,499.5 C1157.2,499.5 1158.6,507.6 1159.6,509.9 C1160.6,512.2 1161.4,513.2 1162.4,513.2 C1163.4,513.2 1164.8,509.6 1165.7,508.0 C1166.7,506.4 1167.5,503.8 1168.1,503.8 C1168.7,503.8 1169.0,506.5 1169.5,509.0 C1170.0,511.5 1170.3,514.2 1170.8,518.6 C1171.2,523.0 1171.9,529.6 1172.2,535.6 C1172.5,541.6 1172.5,547.1 1172.8,554.3 C1173.1,561.5 1173.6,571.6 1174.2,578.6 C1174.8,585.6 1175.6,590.8 1176.6,596.6 C1177.5,602.4 1178.8,613.3 1179.9,613.3 C1181.0,613.3 1182.1,599.7 1183.2,594.6 C1184.3,589.5 1185.2,582.5 1186.5,582.5 C1187.8,582.5 1190.0,597.1 1190.9,605.6 C1191.8,614.1 1191.4,624.6 1192.0,633.7 C1192.6,642.8 1193.4,650.2 1194.3,660.1 C1195.2,670.0 1196.5,685.7 1197.6,693.2 C1198.7,700.7 1199.8,705.1 1200.7,705.1 C1201.6,705.1 1202.3,700.0 1203.2,697.6 C1204.1,695.2 1205.2,690.6 1206.3,690.6 C1207.4,690.6 1209.2,694.6 1210.1,697.6 C1210.9,700.6 1211.0,703.4 1211.4,708.9 C1211.8,714.4 1212.1,721.3 1212.6,730.3 C1213.1,739.3 1213.9,753.4 1214.5,763.0 C1215.1,772.6 1215.8,781.1 1216.4,788.2 C1217.0,795.3 1217.7,801.2 1218.3,805.8 C1218.9,810.4 1219.2,813.6 1220.2,815.9 C1221.2,818.2 1223.3,817.0 1224.6,819.7 C1225.8,822.4 1226.7,828.7 1227.7,832.3 C1228.8,835.9 1229.9,841.1 1230.9,841.1 C1232.0,841.1 1233.1,839.0 1234.0,834.8 C1234.9,830.6 1235.5,821.4 1236.5,815.9 C1237.5,810.4 1238.8,806.2 1240.3,802.0 C1241.8,797.8 1244.4,794.3 1245.4,790.7 C1246.5,787.1 1246.1,784.0 1246.6,780.6 C1247.1,777.2 1248.0,774.6 1248.5,770.6 C1249.0,766.6 1249.4,761.7 1249.8,756.7 C1250.2,751.7 1250.5,746.3 1251.0,740.4 C1251.5,734.5 1252.3,727.4 1252.9,721.5 C1253.5,715.6 1254.2,709.5 1254.8,705.1 C1255.4,700.7 1256.1,700.3 1256.7,695.0 C1257.3,689.7 1257.6,680.7 1258.2,673.4 C1258.8,666.1 1259.8,656.9 1260.4,651.3 C1261.1,645.7 1261.3,643.7 1262.1,640.0 C1262.9,636.3 1264.3,632.5 1265.2,629.0 C1266.1,625.5 1266.9,622.0 1267.6,618.7 C1268.3,615.4 1269.1,612.5 1269.6,609.3 C1270.1,606.2 1270.2,602.4 1270.7,599.8 C1271.2,597.2 1271.4,595.4 1272.3,593.5 C1273.2,591.6 1274.9,588.4 1275.9,588.4 C1277.0,588.4 1277.8,591.5 1278.6,593.5 C1279.4,595.5 1280.2,600.6 1281.0,600.6 C1281.8,600.6 1283.0,600.6 1283.7,599.8 C1284.4,599.0 1284.9,593.8 1285.3,591.2 C1285.7,588.6 1285.8,586.5 1286.1,584.1 C1286.4,581.7 1286.8,579.6 1287.3,577.0 C1287.8,574.4 1288.1,571.1 1288.9,568.3 C1289.7,565.6 1290.7,562.5 1292.0,560.5 C1293.3,558.5 1294.7,556.5 1296.7,556.5 C1298.7,556.5 1301.8,556.5 1303.8,556.5 C1305.8,556.5 1307.0,559.6 1308.5,561.3 C1310.0,563.0 1311.5,564.8 1312.5,566.8 C1313.5,568.8 1314.0,571.1 1314.8,573.1 C1315.6,575.1 1316.4,576.5 1317.2,578.6 C1318.0,580.7 1318.9,583.9 1319.6,585.7 C1320.2,587.5 1320.3,588.7 1321.1,589.6 C1321.9,590.5 1323.1,590.8 1324.3,591.2 C1325.5,591.6 1327.2,591.2 1328.2,592.0 C1329.2,592.8 1329.7,593.8 1330.6,595.9 C1331.5,598.0 1333.0,602.1 1333.7,604.6 C1334.4,607.1 1334.2,609.2 1335.0,610.9 C1335.8,612.6 1336.5,610.9 1338.3,614.9 C1340.1,618.9 1343.6,630.6 1345.7,637.9 C1347.8,645.2 1349.4,651.8 1350.9,658.7 C1352.5,665.7 1353.5,674.3 1355.0,679.6 C1356.5,684.9 1358.1,686.8 1360.0,690.3 C1361.9,693.8 1364.9,696.0 1366.5,700.5 C1368.1,705.0 1368.7,710.2 1369.7,717.2 C1370.8,724.2 1370.9,736.3 1372.8,742.2 C1374.7,748.1 1378.8,747.8 1381.1,752.7 C1383.4,757.6 1384.7,764.2 1386.4,771.5 C1388.2,778.8 1389.2,789.2 1391.6,796.5 C1394.0,803.8 1398.0,810.4 1401.0,815.3 C1404.0,820.2 1407.0,820.5 1409.3,825.7 C1411.5,830.9 1413.0,843.4 1414.5,846.6 C1416.0,849.8 1416.9,849.8 1418.5,849.8 C1420.1,849.8 1421.6,849.7 1423.9,849.7 C1426.2,849.7 1429.9,858.1 1432.3,858.1 C1434.7,858.1 1436.4,857.4 1438.5,857.0"/>
<path fill="none" stroke="#9e1c96" stroke-width="3.2" stroke-linejoin="round" stroke-linecap="butt" d="M60.5,439.1 C74.8,439.1 100.3,439.1 103.3,439.1 C106.3,439.1 103.3,436.9 106.3,436.9 C109.3,436.9 148.6,436.9 151.6,436.9 C154.6,436.9 151.6,435.1 154.6,435.1 C157.6,435.1 170.7,435.1 173.7,435.1 C176.7,435.1 175.5,437.3 176.7,437.3 C177.9,437.3 179.6,437.0 180.8,436.6 C182.0,436.2 182.3,435.1 183.8,435.1 C185.3,435.1 187.8,436.3 189.8,437.1 C191.8,437.9 193.8,439.0 195.8,440.1 C197.8,441.2 200.4,442.6 201.9,443.6 C203.4,444.6 203.7,444.9 205.0,446.1 C206.3,447.3 207.2,448.9 209.5,451.0 C211.8,453.1 215.7,456.3 219.0,458.7 C222.3,461.2 226.3,463.2 229.6,465.7 C232.9,468.3 235.7,470.9 239.0,474.0 C242.3,477.1 245.9,480.9 249.7,484.6 C253.4,488.3 257.6,492.3 261.5,496.4 C265.4,500.5 269.8,505.1 273.3,509.4 C276.8,513.7 280.3,518.9 282.7,522.4 C285.1,525.9 285.3,527.9 287.5,530.7 C289.7,533.5 292.9,536.0 295.7,539.0 C298.4,542.0 301.2,545.4 304.0,548.4 C306.8,551.4 309.6,554.1 312.2,556.7 C314.8,559.4 316.5,564.3 319.3,564.3 C322.1,564.3 326.8,564.3 328.8,564.3 C330.8,564.3 328.8,562.9 331.1,562.6 C333.4,562.3 339.7,562.6 344.8,562.3 C349.9,562.0 355.1,552.8 361.5,547.2 C367.9,541.7 376.5,534.2 382.9,529.0 C389.3,523.8 392.6,521.5 400.1,516.1 C407.6,510.7 420.1,501.6 428.0,496.8 C435.9,492.0 441.2,490.0 447.3,487.1 C453.4,484.2 459.1,479.6 464.5,479.6 C469.9,479.6 475.2,484.4 479.5,488.2 C483.8,492.0 487.0,501.2 490.2,502.2 C493.4,503.2 495.9,503.2 498.8,503.2 C501.7,503.2 503.1,502.5 507.4,498.9 C511.7,495.3 518.9,485.9 524.6,481.8 C530.3,477.7 535.0,476.2 541.8,474.3 C548.6,472.4 557.9,471.8 565.4,470.4 C572.9,469.0 578.9,468.0 586.8,465.7 C594.7,463.4 604.4,458.5 612.6,456.7 C620.8,454.9 630.9,455.6 636.2,454.9 C641.5,454.2 640.8,452.5 644.3,452.5 C647.8,452.5 654.3,452.5 657.2,452.5 C660.1,452.5 658.6,450.3 661.5,450.3 C664.4,450.3 671.6,450.3 674.3,450.3 C677.0,450.3 674.7,448.8 677.6,448.8 C680.5,448.8 687.8,448.8 691.5,448.8 C695.2,448.8 697.2,447.5 700.1,446.7 C703.0,445.9 706.0,444.6 708.7,443.9 C711.4,443.2 714.1,442.4 716.2,442.4 C718.4,442.4 717.1,444.3 721.6,444.3 C726.1,444.3 737.6,444.3 743.0,443.9 C748.4,443.5 750.2,441.5 753.8,440.6 C757.4,439.7 760.9,439.1 764.5,438.5 C768.1,437.9 771.6,437.2 775.2,436.8 C778.8,436.4 782.8,435.9 786.0,435.9 C789.2,435.9 791.8,438.5 794.5,439.6 C797.2,440.8 799.5,442.8 802.0,442.8 C804.5,442.8 806.9,441.0 809.6,440.6 C812.3,440.2 814.9,440.6 818.1,440.2 C821.3,439.8 825.7,437.9 828.9,436.4 C832.1,434.9 835.0,431.7 837.5,431.0 C840.0,430.3 841.9,430.3 843.9,430.3 C845.9,430.3 847.1,432.5 849.3,432.5 C851.4,432.5 854.5,430.3 856.8,430.3 C859.1,430.3 860.7,430.8 863.2,431.6 C865.7,432.4 868.2,434.3 871.8,435.3 C875.4,436.3 879.0,437.4 884.7,437.4 C890.4,437.4 902.0,437.4 906.2,437.4 C910.4,437.4 906.5,439.1 910.4,439.1 C914.3,439.1 924.8,439.1 929.8,439.1 C934.8,439.1 937.5,439.8 940.5,440.6 C943.5,441.4 945.1,442.7 948.0,443.9 C950.9,445.1 955.0,446.2 957.7,448.0 C960.4,449.8 961.7,450.7 964.1,454.4 C966.5,458.2 969.2,462.7 972.2,470.5 C975.2,478.3 979.2,492.0 981.9,501.1 C984.6,510.2 985.9,514.5 988.3,525.2 C990.7,535.9 993.9,553.5 996.3,565.5 C998.7,577.5 1001.2,595.3 1002.8,596.9 C1004.4,598.5 1004.8,598.5 1006.0,598.5 C1007.2,598.5 1008.7,594.9 1010.0,588.0 C1011.3,581.1 1012.5,569.2 1014.0,557.4 C1015.5,545.6 1017.3,527.7 1018.9,517.2 C1020.5,506.7 1021.8,500.8 1023.7,494.6 C1025.6,488.4 1027.7,483.7 1030.1,480.2 C1032.5,476.7 1035.8,475.4 1038.2,473.7 C1040.6,472.0 1042.5,470.0 1044.2,470.0 C1045.9,470.0 1047.2,470.0 1048.4,470.5 C1049.7,471.0 1050.5,474.5 1051.7,477.6 C1052.9,480.7 1054.4,485.1 1055.5,488.9 C1056.6,492.7 1057.2,496.8 1058.3,500.3 C1059.4,503.8 1060.8,506.9 1062.1,509.7 C1063.4,512.5 1064.8,514.2 1065.9,517.3 C1067.0,520.5 1067.9,525.0 1068.7,528.6 C1069.5,532.2 1069.8,535.2 1070.6,539.0 C1071.4,542.8 1072.4,547.1 1073.5,551.3 C1074.6,555.6 1076.1,561.4 1077.2,564.5 C1078.3,567.6 1079.1,570.0 1080.1,570.2 C1081.1,570.4 1082.0,570.4 1083.0,570.4 C1084.0,570.4 1085.1,561.4 1086.3,558.1 C1087.5,554.8 1088.9,550.5 1090.1,550.5 C1091.3,550.5 1092.3,554.5 1093.4,556.2 C1094.5,557.9 1095.5,560.5 1096.7,560.5 C1097.9,560.5 1099.2,557.4 1100.5,556.2 C1101.8,555.0 1103.0,553.4 1104.3,553.4 C1105.6,553.4 1106.7,557.4 1108.1,559.0 C1109.5,560.6 1111.5,561.2 1112.8,563.3 C1114.0,565.4 1114.6,569.2 1115.6,571.3 C1116.6,573.4 1117.9,576.1 1119.0,576.1 C1120.1,576.1 1121.5,573.3 1122.3,570.9 C1123.1,568.5 1123.2,564.7 1124.1,561.9 C1125.0,559.1 1126.2,556.5 1127.5,554.3 C1128.8,552.1 1130.6,550.7 1131.7,548.6 C1132.8,546.5 1133.2,545.5 1134.1,542.0 C1135.0,538.5 1135.7,530.8 1136.9,527.9 C1138.1,525.0 1139.6,525.3 1141.2,524.6 C1142.8,523.9 1145.0,524.6 1146.4,523.6 C1147.8,522.6 1149.0,519.5 1149.7,517.5 C1150.4,515.5 1149.9,514.7 1150.6,511.8 C1151.3,508.9 1153.0,500.5 1153.9,500.0 C1154.9,499.5 1155.3,499.5 1156.3,499.5 C1157.2,499.5 1158.6,507.6 1159.6,509.9 C1160.6,512.2 1161.4,513.2 1162.4,513.2 C1163.4,513.2 1164.8,509.6 1165.7,508.0 C1166.7,506.4 1167.5,503.8 1168.1,503.8 C1168.7,503.8 1169.0,506.5 1169.5,509.0 C1170.0,511.5 1170.3,514.2 1170.8,518.6 C1171.2,523.0 1171.9,529.6 1172.2,535.6 C1172.5,541.6 1172.5,547.1 1172.8,554.3 C1173.1,561.5 1173.6,571.6 1174.2,578.6 C1174.8,585.6 1175.6,590.8 1176.6,596.6 C1177.5,602.4 1178.8,613.3 1179.9,613.3 C1181.0,613.3 1182.1,599.7 1183.2,594.6 C1184.3,589.5 1185.2,582.5 1186.5,582.5 C1187.8,582.5 1190.0,597.1 1190.9,605.6 C1191.8,614.1 1191.4,624.6 1192.0,633.7 C1192.6,642.8 1193.4,650.2 1194.3,660.1 C1195.2,670.0 1196.5,685.7 1197.6,693.2 C1198.7,700.7 1199.8,705.1 1200.7,705.1 C1201.6,705.1 1202.3,700.0 1203.2,697.6 C1204.1,695.2 1205.2,690.6 1206.3,690.6 C1207.4,690.6 1209.2,694.6 1210.1,697.6 C1210.9,700.6 1211.0,703.4 1211.4,708.9 C1211.8,714.4 1212.1,721.3 1212.6,730.3 C1213.1,739.3 1213.9,753.4 1214.5,763.0 C1215.1,772.6 1215.8,781.1 1216.4,788.2 C1217.0,795.3 1217.7,801.2 1218.3,805.8 C1218.9,810.4 1219.2,813.6 1220.2,815.9 C1221.2,818.2 1223.3,817.0 1224.6,819.7 C1225.8,822.4 1226.7,828.7 1227.7,832.3 C1228.8,835.9 1229.9,841.1 1230.9,841.1 C1232.0,841.1 1233.1,839.0 1234.0,834.8 C1234.9,830.6 1235.5,821.4 1236.5,815.9 C1237.5,810.4 1238.8,806.2 1240.3,802.0 C1241.8,797.8 1244.4,794.3 1245.4,790.7 C1246.5,787.1 1246.1,784.0 1246.6,780.6 C1247.1,777.2 1248.0,774.6 1248.5,770.6 C1249.0,766.6 1249.4,761.7 1249.8,756.7 C1250.2,751.7 1250.5,746.3 1251.0,740.4 C1251.5,734.5 1252.3,727.4 1252.9,721.5 C1253.5,715.6 1254.2,709.5 1254.8,705.1 C1255.4,700.7 1256.1,700.3 1256.7,695.0 C1257.3,689.7 1257.6,680.7 1258.2,673.4 C1258.8,666.1 1259.8,656.9 1260.4,651.3 C1261.1,645.7 1261.3,643.7 1262.1,640.0 C1262.9,636.3 1264.3,632.5 1265.2,629.0 C1266.1,625.5 1266.9,622.0 1267.6,618.7 C1268.3,615.4 1269.1,612.5 1269.6,609.3 C1270.1,606.2 1270.2,602.4 1270.7,599.8 C1271.2,597.2 1271.4,595.4 1272.3,593.5 C1273.2,591.6 1274.9,588.4 1275.9,588.4 C1277.0,588.4 1277.8,591.5 1278.6,593.5 C1279.4,595.5 1280.2,600.6 1281.0,600.6 C1281.8,600.6 1283.0,600.6 1283.7,599.8 C1284.4,599.0 1284.9,593.8 1285.3,591.2 C1285.7,588.6 1285.8,586.5 1286.1,584.1 C1286.4,581.7 1286.8,579.6 1287.3,577.0 C1287.8,574.4 1288.1,571.1 1288.9,568.3 C1289.7,565.6 1290.7,562.5 1292.0,560.5 C1293.3,558.5 1294.7,556.5 1296.7,556.5 C1298.7,556.5 1301.8,556.5 1303.8,556.5 C1305.8,556.5 1307.0,559.6 1308.5,561.3 C1310.0,563.0 1311.5,564.8 1312.5,566.8 C1313.5,568.8 1314.0,571.1 1314.8,573.1 C1315.6,575.1 1316.4,576.5 1317.2,578.6 C1318.0,580.7 1318.9,583.9 1319.6,585.7 C1320.2,587.5 1320.3,588.7 1321.1,589.6 C1321.9,590.5 1323.1,590.8 1324.3,591.2 C1325.5,591.6 1327.2,591.2 1328.2,592.0 C1329.2,592.8 1329.7,593.8 1330.6,595.9 C1331.5,598.0 1333.0,602.1 1333.7,604.6 C1334.4,607.1 1334.2,609.2 1335.0,610.9 C1335.8,612.6 1336.5,610.9 1338.3,614.9 C1340.1,618.9 1343.6,630.6 1345.7,637.9 C1347.8,645.2 1349.4,651.8 1350.9,658.7 C1352.5,665.7 1353.5,674.3 1355.0,679.6 C1356.5,684.9 1358.1,686.8 1360.0,690.3 C1361.9,693.8 1364.9,696.0 1366.5,700.5 C1368.1,705.0 1368.7,710.2 1369.7,717.2 C1370.8,724.2 1370.9,736.3 1372.8,742.2 C1374.7,748.1 1378.8,747.8 1381.1,752.7 C1383.4,757.6 1384.7,764.2 1386.4,771.5 C1388.2,778.8 1389.2,789.2 1391.6,796.5 C1394.0,803.8 1398.0,810.4 1401.0,815.3 C1404.0,820.2 1407.0,820.5 1409.3,825.7 C1411.5,830.9 1413.0,843.4 1414.5,846.6 C1416.0,849.8 1416.9,849.8 1418.5,849.8 C1420.1,849.8 1421.6,849.7 1423.9,849.7 C1426.2,849.7 1429.9,858.1 1432.3,858.1 C1434.7,858.1 1436.4,857.4 1438.5,857.0"/>
<path fill="none" stroke="#0aff28" stroke-opacity="0.3" stroke-width="5.0" stroke-linejoin="round" stroke-linecap="butt" d="M60.5,664.6 C64.0,664.4 69.1,664.6 71.1,664.1 C73.1,663.6 71.1,661.6 73.1,661.6 C75.1,661.6 98.3,662.1 101.3,662.1 C104.3,662.1 101.3,660.1 104.3,660.1 C107.3,660.1 124.3,660.6 127.4,660.6 C130.5,660.6 129.0,658.6 130.5,658.6 C132.0,658.6 135.2,658.6 136.5,659.1 C137.8,659.6 136.5,661.6 138.5,661.6 C140.5,661.6 146.6,661.6 148.6,661.6 C150.6,661.6 148.6,659.3 150.6,659.3 C152.6,659.3 176.6,659.3 179.7,659.3 C182.8,659.3 181.1,661.1 182.8,661.1 C184.5,661.1 187.8,661.1 189.8,661.1 C191.9,661.1 193.4,663.9 195.1,665.2 C196.8,666.5 198.5,667.4 200.2,668.8 C201.9,670.2 203.7,672.0 205.4,673.4 C207.1,674.8 208.8,675.8 210.5,677.5 C212.2,679.2 213.9,681.9 215.6,683.7 C217.3,685.5 219.0,686.8 220.7,688.3 C222.4,689.8 224.1,691.4 225.8,692.9 C227.5,694.4 229.3,696.0 231.0,697.5 C232.7,699.0 234.4,700.6 236.1,702.1 C237.8,703.6 239.5,705.1 241.2,706.7 C242.9,708.3 244.8,710.3 246.3,711.8 C247.8,713.3 248.1,714.0 250.0,715.9 C251.9,717.8 255.3,720.4 257.9,723.4 C260.5,726.4 263.1,730.1 265.7,733.6 C268.3,737.1 271.0,740.8 273.6,744.6 C276.2,748.4 279.4,753.1 281.5,756.5 C283.6,759.9 284.2,762.4 286.2,765.1 C288.2,767.9 290.8,770.4 293.3,773.0 C295.8,775.6 298.6,778.3 301.2,780.9 C303.8,783.5 306.5,786.1 309.1,788.7 C311.7,791.3 314.9,794.6 316.9,796.6 C318.9,798.6 319.4,799.9 320.9,800.6 C322.3,801.3 324.1,801.3 325.6,801.3 C327.1,801.3 327.5,799.0 330.0,799.0 C332.5,799.0 337.4,800.5 340.5,800.5 C343.6,800.5 346.5,800.0 348.6,798.4 C350.7,796.8 349.7,794.4 352.9,790.8 C356.1,787.2 363.2,781.2 367.9,776.9 C372.5,772.6 376.1,768.7 380.8,765.1 C385.5,761.5 391.9,758.4 395.8,755.4 C399.7,752.4 399.4,750.7 404.4,746.8 C409.4,742.9 418.8,736.6 425.9,731.8 C433.0,727.0 441.6,721.5 447.3,717.9 C453.0,714.3 456.3,710.4 460.2,710.4 C464.1,710.4 467.3,710.4 470.9,710.4 C474.5,710.4 478.5,714.1 481.7,717.9 C484.9,721.6 487.3,730.8 490.2,732.9 C493.1,735.0 495.6,735.0 498.8,735.0 C502.0,735.0 505.7,730.2 509.6,726.5 C513.5,722.8 518.5,716.1 522.4,712.5 C526.3,708.9 528.9,707.1 533.2,705.0 C537.5,702.9 542.8,701.1 548.2,699.6 C553.6,698.1 560.8,697.1 565.4,696.0 C570.0,694.9 571.5,694.8 576.1,693.2 C580.8,691.7 588.3,688.6 593.3,686.7 C598.3,684.8 601.6,683.2 606.2,682.0 C610.9,680.8 615.5,679.6 621.2,679.2 C626.9,678.8 636.7,679.2 640.5,678.8 C644.3,678.4 642.2,676.8 644.3,676.8 C646.4,676.8 650.8,676.8 652.9,676.8 C655.0,676.8 654.4,674.9 657.2,674.9 C660.1,674.9 667.1,674.9 670.0,674.9 C672.9,674.9 670.0,673.2 674.3,672.7 C678.6,672.2 692.6,672.7 698.0,671.7 C703.4,670.7 702.9,666.3 706.5,666.3 C710.1,666.3 717.2,666.3 719.4,666.7 C721.6,667.1 719.5,668.9 721.6,668.9 C723.8,668.9 729.8,668.9 732.3,668.9 C734.8,668.9 734.8,671.0 736.6,671.0 C738.4,671.0 740.5,669.1 743.0,668.4 C745.5,667.7 749.1,667.1 751.6,666.7 C754.1,666.3 755.5,666.7 758.0,666.1 C760.5,665.5 761.9,663.2 766.6,662.4 C771.3,661.6 782.1,661.4 786.0,661.4 C789.9,661.4 788.1,661.6 790.2,662.4 C792.3,663.2 795.6,665.9 798.8,666.1 C802.0,666.3 806.7,666.3 809.6,666.3 C812.5,666.3 813.1,665.3 816.0,664.6 C818.9,663.9 823.7,663.3 826.7,662.0 C829.7,660.7 831.3,657.9 834.2,656.6 C837.1,655.4 841.2,654.5 843.9,654.5 C846.6,654.5 847.8,656.4 850.3,656.4 C852.8,656.4 856.0,653.8 858.9,653.8 C861.8,653.8 864.6,656.1 867.5,657.1 C870.4,658.1 872.9,658.8 876.1,659.6 C879.3,660.4 881.1,662.0 886.8,662.0 C892.5,662.0 905.4,662.0 910.4,662.0 C915.4,662.0 913.3,663.1 916.9,663.1 C920.5,663.1 928.0,663.1 931.9,663.1 C935.8,663.1 938.0,664.4 940.5,665.2 C943.0,666.0 944.1,666.7 946.9,667.9 C949.7,669.1 954.4,670.3 957.3,672.3 C960.2,674.3 962.0,676.5 964.3,680.1 C966.6,683.7 968.9,687.3 971.2,693.9 C973.5,700.5 976.1,712.7 978.1,719.9 C980.1,727.1 981.6,730.0 983.3,737.2 C985.0,744.4 986.8,753.1 988.5,763.2 C990.2,773.3 992.0,786.4 993.7,797.9 C995.4,809.4 997.3,823.5 998.9,832.5 C1000.5,841.5 1001.9,849.0 1003.2,851.6 C1004.5,854.2 1005.4,854.2 1006.7,854.2 C1008.0,854.2 1009.4,848.3 1011.0,836.0 C1012.6,823.7 1014.3,796.5 1016.2,780.6 C1018.1,764.7 1020.6,750.2 1022.3,740.7 C1024.0,731.2 1024.4,729.5 1026.6,723.4 C1028.8,717.3 1032.3,707.8 1035.3,704.3 C1038.3,700.8 1042.3,700.8 1044.7,700.8 C1047.1,700.8 1047.9,701.5 1049.5,703.0 C1051.1,704.5 1052.8,707.1 1054.2,710.1 C1055.6,713.1 1056.7,717.0 1057.7,720.7 C1058.7,724.4 1058.9,728.6 1060.1,732.5 C1061.3,736.4 1063.4,740.2 1064.8,744.3 C1066.2,748.4 1067.5,752.8 1068.4,757.3 C1069.3,761.8 1069.3,766.8 1070.1,771.5 C1070.9,776.2 1072.2,780.8 1073.1,785.7 C1074.0,790.6 1074.6,796.5 1075.4,801.0 C1076.2,805.5 1076.9,810.3 1077.8,812.8 C1078.7,815.3 1079.7,815.8 1080.8,815.8 C1081.9,815.8 1083.3,815.3 1084.3,812.8 C1085.3,810.3 1086.0,804.9 1086.7,801.0 C1087.4,797.1 1087.7,791.8 1088.4,789.2 C1089.1,786.7 1089.8,785.7 1090.8,785.7 C1091.8,785.7 1093.2,789.0 1094.3,790.4 C1095.4,791.8 1096.1,793.9 1097.3,793.9 C1098.5,793.9 1100.2,789.5 1101.4,788.0 C1102.6,786.5 1103.0,785.1 1104.4,785.1 C1105.8,785.1 1108.1,788.9 1109.7,790.4 C1111.3,791.9 1112.7,792.1 1113.8,793.9 C1114.9,795.7 1115.3,798.7 1116.2,801.0 C1117.1,803.3 1118.2,807.5 1119.2,807.5 C1120.2,807.5 1121.1,806.9 1122.1,804.6 C1123.1,802.3 1123.8,797.0 1125.1,793.9 C1126.4,790.8 1128.5,788.5 1129.8,785.7 C1131.1,783.0 1131.9,780.5 1132.7,777.4 C1133.5,774.2 1133.8,770.7 1134.5,766.8 C1135.2,762.9 1135.7,756.2 1136.9,753.8 C1138.1,751.4 1140.0,751.4 1141.6,751.4 C1143.2,751.4 1145.2,751.4 1146.3,751.4 C1147.4,751.4 1147.5,749.3 1148.1,746.7 C1148.7,744.1 1149.0,739.5 1149.9,736.0 C1150.8,732.5 1152.3,726.0 1153.4,725.4 C1154.5,724.8 1155.4,724.8 1156.4,724.8 C1157.4,724.8 1158.0,739.6 1159.3,739.6 C1160.6,739.6 1162.6,739.6 1164.0,739.6 C1165.4,739.6 1166.6,732.5 1167.6,731.9 C1168.6,731.3 1169.5,731.3 1170.0,731.3 C1170.5,731.3 1170.3,737.5 1170.6,742.0 C1170.8,746.5 1171.2,751.8 1171.5,758.6 C1171.8,765.4 1172.0,775.6 1172.5,782.6 C1173.0,789.6 1174.1,795.1 1174.8,800.6 C1175.5,806.1 1175.9,810.6 1176.5,815.6 C1177.1,820.6 1177.5,826.6 1178.2,830.6 C1178.9,834.6 1179.7,839.8 1180.5,839.8 C1181.3,839.8 1182.2,821.6 1183.2,816.6 C1184.2,811.6 1185.2,810.0 1186.5,810.0 C1187.8,810.0 1189.8,825.9 1190.9,834.3 C1192.0,842.8 1192.5,851.7 1193.1,860.7 C1193.7,869.7 1193.8,879.5 1194.3,888.2 C1194.8,896.9 1195.8,905.9 1196.4,912.8 C1197.1,919.7 1197.2,928.2 1198.2,929.5 C1199.2,930.8 1201.0,930.8 1202.1,930.8 C1203.2,930.8 1203.7,920.5 1204.7,917.8 C1205.7,915.1 1207.1,914.5 1208.0,914.5 C1208.9,914.5 1209.4,919.6 1209.9,923.0 C1210.4,926.4 1210.8,929.7 1211.2,934.7 C1211.6,939.7 1212.1,944.5 1212.5,952.9 C1212.9,961.3 1213.1,975.6 1213.8,985.3 C1214.5,995.0 1215.8,1003.1 1216.4,1011.3 C1217.1,1019.5 1216.8,1029.7 1217.7,1034.7 C1218.6,1039.7 1220.3,1039.7 1221.6,1041.2 C1222.9,1042.7 1224.4,1041.4 1225.5,1043.8 C1226.6,1046.2 1227.2,1052.2 1228.1,1055.5 C1229.0,1058.8 1229.7,1063.9 1230.7,1063.9 C1231.7,1063.9 1233.1,1062.3 1234.0,1059.4 C1234.9,1056.5 1235.2,1050.7 1235.9,1046.4 C1236.6,1042.1 1237.2,1037.7 1237.9,1033.4 C1238.6,1029.1 1238.8,1024.1 1239.8,1020.4 C1240.8,1016.7 1242.6,1015.0 1243.7,1011.3 C1244.8,1007.6 1245.5,1002.6 1246.3,998.3 C1247.0,994.0 1247.7,989.9 1248.2,985.3 C1248.7,980.8 1249.1,976.0 1249.5,971.0 C1249.9,966.0 1250.2,960.9 1250.8,955.5 C1251.3,950.1 1252.1,944.0 1252.8,938.6 C1253.5,933.2 1254.1,927.4 1254.7,923.0 C1255.3,918.6 1256.0,915.2 1256.5,912.0 C1257.0,908.8 1257.0,909.0 1257.4,904.0 C1257.8,899.0 1258.0,889.3 1258.8,882.0 C1259.6,874.7 1260.9,865.6 1262.1,860.0 C1263.3,854.4 1265.0,852.0 1266.0,848.2 C1267.0,844.4 1267.8,840.8 1268.4,837.2 C1269.0,833.7 1269.2,830.6 1269.6,826.9 C1270.0,823.2 1270.2,818.4 1270.7,815.1 C1271.2,811.8 1271.9,809.2 1272.7,807.2 C1273.5,805.2 1274.5,803.3 1275.5,803.3 C1276.5,803.3 1277.6,805.6 1278.6,807.2 C1279.6,808.8 1280.4,812.8 1281.4,812.8 C1282.4,812.8 1283.8,811.5 1284.5,809.6 C1285.2,807.8 1285.4,804.3 1285.7,801.7 C1286.0,799.1 1286.2,796.4 1286.5,793.9 C1286.8,791.4 1287.2,789.4 1287.7,786.8 C1288.2,784.2 1288.7,780.1 1289.6,778.1 C1290.5,776.1 1291.9,775.7 1293.0,775.0 C1294.1,774.3 1294.6,773.8 1296.0,773.8 C1297.4,773.8 1299.9,774.7 1301.5,775.7 C1303.1,776.7 1304.1,778.4 1305.4,779.7 C1306.7,781.0 1308.1,781.8 1309.3,783.6 C1310.5,785.4 1311.6,788.3 1312.5,790.7 C1313.4,793.1 1314.0,795.6 1314.8,797.8 C1315.6,800.0 1316.5,801.9 1317.2,804.1 C1317.9,806.3 1318.2,808.8 1318.8,811.2 C1319.4,813.6 1320.2,816.7 1321.1,818.3 C1322.0,819.9 1323.0,820.6 1324.3,820.6 C1325.5,820.6 1327.3,818.3 1328.6,818.3 C1329.9,818.3 1331.1,820.4 1332.2,823.0 C1333.3,825.6 1334.0,830.7 1335.0,834.0 C1336.0,837.3 1336.0,836.9 1338.2,842.8 C1340.4,848.7 1346.0,860.2 1348.4,869.4 C1350.8,878.6 1351.0,890.9 1352.5,898.1 C1354.0,905.3 1355.2,906.9 1357.6,912.4 C1360.0,917.9 1364.6,925.0 1366.8,930.8 C1369.0,936.6 1369.9,940.7 1370.9,947.2 C1371.9,953.7 1371.1,964.6 1373.0,969.7 C1374.9,974.8 1379.8,973.5 1382.2,977.9 C1384.6,982.3 1385.8,989.5 1387.3,996.3 C1388.8,1003.1 1389.4,1012.7 1391.4,1018.8 C1393.5,1024.9 1396.5,1029.0 1399.6,1033.1 C1402.7,1037.2 1407.1,1037.3 1409.8,1043.3 C1412.5,1049.3 1414.3,1068.5 1415.9,1068.9 C1417.5,1069.3 1418.1,1069.3 1419.5,1069.3 C1420.9,1069.3 1422.3,1067.9 1424.1,1067.9 C1425.9,1067.9 1427.9,1073.0 1430.3,1073.0 C1432.7,1073.0 1435.8,1070.9 1438.5,1069.9"/>
<path fill="none" stroke="#0aff28" stroke-width="3.2" stroke-linejoin="round" stroke-linecap="butt" d="M60.5,664.6 C64.0,664.4 69.1,664.6 71.1,664.1 C73.1,663.6 71.1,661.6 73.1,661.6 C75.1,661.6 98.3,662.1 101.3,662.1 C104.3,662.1 101.3,660.1 104.3,660.1 C107.3,660.1 124.3,660.6 127.4,660.6 C130.5,660.6 129.0,658.6 130.5,658.6 C132.0,658.6 135.2,658.6 136.5,659.1 C137.8,659.6 136.5,661.6 138.5,661.6 C140.5,661.6 146.6,661.6 148.6,661.6 C150.6,661.6 148.6,659.3 150.6,659.3 C152.6,659.3 176.6,659.3 179.7,659.3 C182.8,659.3 181.1,661.1 182.8,661.1 C184.5,661.1 187.8,661.1 189.8,661.1 C191.9,661.1 193.4,663.9 195.1,665.2 C196.8,666.5 198.5,667.4 200.2,668.8 C201.9,670.2 203.7,672.0 205.4,673.4 C207.1,674.8 208.8,675.8 210.5,677.5 C212.2,679.2 213.9,681.9 215.6,683.7 C217.3,685.5 219.0,686.8 220.7,688.3 C222.4,689.8 224.1,691.4 225.8,692.9 C227.5,694.4 229.3,696.0 231.0,697.5 C232.7,699.0 234.4,700.6 236.1,702.1 C237.8,703.6 239.5,705.1 241.2,706.7 C242.9,708.3 244.8,710.3 246.3,711.8 C247.8,713.3 248.1,714.0 250.0,715.9 C251.9,717.8 255.3,720.4 257.9,723.4 C260.5,726.4 263.1,730.1 265.7,733.6 C268.3,737.1 271.0,740.8 273.6,744.6 C276.2,748.4 279.4,753.1 281.5,756.5 C283.6,759.9 284.2,762.4 286.2,765.1 C288.2,767.9 290.8,770.4 293.3,773.0 C295.8,775.6 298.6,778.3 301.2,780.9 C303.8,783.5 306.5,786.1 309.1,788.7 C311.7,791.3 314.9,794.6 316.9,796.6 C318.9,798.6 319.4,799.9 320.9,800.6 C322.3,801.3 324.1,801.3 325.6,801.3 C327.1,801.3 327.5,799.0 330.0,799.0 C332.5,799.0 337.4,800.5 340.5,800.5 C343.6,800.5 346.5,800.0 348.6,798.4 C350.7,796.8 349.7,794.4 352.9,790.8 C356.1,787.2 363.2,781.2 367.9,776.9 C372.5,772.6 376.1,768.7 380.8,765.1 C385.5,761.5 391.9,758.4 395.8,755.4 C399.7,752.4 399.4,750.7 404.4,746.8 C409.4,742.9 418.8,736.6 425.9,731.8 C433.0,727.0 441.6,721.5 447.3,717.9 C453.0,714.3 456.3,710.4 460.2,710.4 C464.1,710.4 467.3,710.4 470.9,710.4 C474.5,710.4 478.5,714.1 481.7,717.9 C484.9,721.6 487.3,730.8 490.2,732.9 C493.1,735.0 495.6,735.0 498.8,735.0 C502.0,735.0 505.7,730.2 509.6,726.5 C513.5,722.8 518.5,716.1 522.4,712.5 C526.3,708.9 528.9,707.1 533.2,705.0 C537.5,702.9 542.8,701.1 548.2,699.6 C553.6,698.1 560.8,697.1 565.4,696.0 C570.0,694.9 571.5,694.8 576.1,693.2 C580.8,691.7 588.3,688.6 593.3,686.7 C598.3,684.8 601.6,683.2 606.2,682.0 C610.9,680.8 615.5,679.6 621.2,679.2 C626.9,678.8 636.7,679.2 640.5,678.8 C644.3,678.4 642.2,676.8 644.3,676.8 C646.4,676.8 650.8,676.8 652.9,676.8 C655.0,676.8 654.4,674.9 657.2,674.9 C660.1,674.9 667.1,674.9 670.0,674.9 C672.9,674.9 670.0,673.2 674.3,672.7 C678.6,672.2 692.6,672.7 698.0,671.7 C703.4,670.7 702.9,666.3 706.5,666.3 C710.1,666.3 717.2,666.3 719.4,666.7 C721.6,667.1 719.5,668.9 721.6,668.9 C723.8,668.9 729.8,668.9 732.3,668.9 C734.8,668.9 734.8,671.0 736.6,671.0 C738.4,671.0 740.5,669.1 743.0,668.4 C745.5,667.7 749.1,667.1 751.6,666.7 C754.1,666.3 755.5,666.7 758.0,666.1 C760.5,665.5 761.9,663.2 766.6,662.4 C771.3,661.6 782.1,661.4 786.0,661.4 C789.9,661.4 788.1,661.6 790.2,662.4 C792.3,663.2 795.6,665.9 798.8,666.1 C802.0,666.3 806.7,666.3 809.6,666.3 C812.5,666.3 813.1,665.3 816.0,664.6 C818.9,663.9 823.7,663.3 826.7,662.0 C829.7,660.7 831.3,657.9 834.2,656.6 C837.1,655.4 841.2,654.5 843.9,654.5 C846.6,654.5 847.8,656.4 850.3,656.4 C852.8,656.4 856.0,653.8 858.9,653.8 C861.8,653.8 864.6,656.1 867.5,657.1 C870.4,658.1 872.9,658.8 876.1,659.6 C879.3,660.4 881.1,662.0 886.8,662.0 C892.5,662.0 905.4,662.0 910.4,662.0 C915.4,662.0 913.3,663.1 916.9,663.1 C920.5,663.1 928.0,663.1 931.9,663.1 C935.8,663.1 938.0,664.4 940.5,665.2 C943.0,666.0 944.1,666.7 946.9,667.9 C949.7,669.1 954.4,670.3 957.3,672.3 C960.2,674.3 962.0,676.5 964.3,680.1 C966.6,683.7 968.9,687.3 971.2,693.9 C973.5,700.5 976.1,712.7 978.1,719.9 C980.1,727.1 981.6,730.0 983.3,737.2 C985.0,744.4 986.8,753.1 988.5,763.2 C990.2,773.3 992.0,786.4 993.7,797.9 C995.4,809.4 997.3,823.5 998.9,832.5 C1000.5,841.5 1001.9,849.0 1003.2,851.6 C1004.5,854.2 1005.4,854.2 1006.7,854.2 C1008.0,854.2 1009.4,848.3 1011.0,836.0 C1012.6,823.7 1014.3,796.5 1016.2,780.6 C1018.1,764.7 1020.6,750.2 1022.3,740.7 C1024.0,731.2 1024.4,729.5 1026.6,723.4 C1028.8,717.3 1032.3,707.8 1035.3,704.3 C1038.3,700.8 1042.3,700.8 1044.7,700.8 C1047.1,700.8 1047.9,701.5 1049.5,703.0 C1051.1,704.5 1052.8,707.1 1054.2,710.1 C1055.6,713.1 1056.7,717.0 1057.7,720.7 C1058.7,724.4 1058.9,728.6 1060.1,732.5 C1061.3,736.4 1063.4,740.2 1064.8,744.3 C1066.2,748.4 1067.5,752.8 1068.4,757.3 C1069.3,761.8 1069.3,766.8 1070.1,771.5 C1070.9,776.2 1072.2,780.8 1073.1,785.7 C1074.0,790.6 1074.6,796.5 1075.4,801.0 C1076.2,805.5 1076.9,810.3 1077.8,812.8 C1078.7,815.3 1079.7,815.8 1080.8,815.8 C1081.9,815.8 1083.3,815.3 1084.3,812.8 C1085.3,810.3 1086.0,804.9 1086.7,801.0 C1087.4,797.1 1087.7,791.8 1088.4,789.2 C1089.1,786.7 1089.8,785.7 1090.8,785.7 C1091.8,785.7 1093.2,789.0 1094.3,790.4 C1095.4,791.8 1096.1,793.9 1097.3,793.9 C1098.5,793.9 1100.2,789.5 1101.4,788.0 C1102.6,786.5 1103.0,785.1 1104.4,785.1 C1105.8,785.1 1108.1,788.9 1109.7,790.4 C1111.3,791.9 1112.7,792.1 1113.8,793.9 C1114.9,795.7 1115.3,798.7 1116.2,801.0 C1117.1,803.3 1118.2,807.5 1119.2,807.5 C1120.2,807.5 1121.1,806.9 1122.1,804.6 C1123.1,802.3 1123.8,797.0 1125.1,793.9 C1126.4,790.8 1128.5,788.5 1129.8,785.7 C1131.1,783.0 1131.9,780.5 1132.7,777.4 C1133.5,774.2 1133.8,770.7 1134.5,766.8 C1135.2,762.9 1135.7,756.2 1136.9,753.8 C1138.1,751.4 1140.0,751.4 1141.6,751.4 C1143.2,751.4 1145.2,751.4 1146.3,751.4 C1147.4,751.4 1147.5,749.3 1148.1,746.7 C1148.7,744.1 1149.0,739.5 1149.9,736.0 C1150.8,732.5 1152.3,726.0 1153.4,725.4 C1154.5,724.8 1155.4,724.8 1156.4,724.8 C1157.4,724.8 1158.0,739.6 1159.3,739.6 C1160.6,739.6 1162.6,739.6 1164.0,739.6 C1165.4,739.6 1166.6,732.5 1167.6,731.9 C1168.6,731.3 1169.5,731.3 1170.0,731.3 C1170.5,731.3 1170.3,737.5 1170.6,742.0 C1170.8,746.5 1171.2,751.8 1171.5,758.6 C1171.8,765.4 1172.0,775.6 1172.5,782.6 C1173.0,789.6 1174.1,795.1 1174.8,800.6 C1175.5,806.1 1175.9,810.6 1176.5,815.6 C1177.1,820.6 1177.5,826.6 1178.2,830.6 C1178.9,834.6 1179.7,839.8 1180.5,839.8 C1181.3,839.8 1182.2,821.6 1183.2,816.6 C1184.2,811.6 1185.2,810.0 1186.5,810.0 C1187.8,810.0 1189.8,825.9 1190.9,834.3 C1192.0,842.8 1192.5,851.7 1193.1,860.7 C1193.7,869.7 1193.8,879.5 1194.3,888.2 C1194.8,896.9 1195.8,905.9 1196.4,912.8 C1197.1,919.7 1197.2,928.2 1198.2,929.5 C1199.2,930.8 1201.0,930.8 1202.1,930.8 C1203.2,930.8 1203.7,920.5 1204.7,917.8 C1205.7,915.1 1207.1,914.5 1208.0,914.5 C1208.9,914.5 1209.4,919.6 1209.9,923.0 C1210.4,926.4 1210.8,929.7 1211.2,934.7 C1211.6,939.7 1212.1,944.5 1212.5,952.9 C1212.9,961.3 1213.1,975.6 1213.8,985.3 C1214.5,995.0 1215.8,1003.1 1216.4,1011.3 C1217.1,1019.5 1216.8,1029.7 1217.7,1034.7 C1218.6,1039.7 1220.3,1039.7 1221.6,1041.2 C1222.9,1042.7 1224.4,1041.4 1225.5,1043.8 C1226.6,1046.2 1227.2,1052.2 1228.1,1055.5 C1229.0,1058.8 1229.7,1063.9 1230.7,1063.9 C1231.7,1063.9 1233.1,1062.3 1234.0,1059.4 C1234.9,1056.5 1235.2,1050.7 1235.9,1046.4 C1236.6,1042.1 1237.2,1037.7 1237.9,1033.4 C1238.6,1029.1 1238.8,1024.1 1239.8,1020.4 C1240.8,1016.7 1242.6,1015.0 1243.7,1011.3 C1244.8,1007.6 1245.5,1002.6 1246.3,998.3 C1247.0,994.0 1247.7,989.9 1248.2,985.3 C1248.7,980.8 1249.1,976.0 1249.5,971.0 C1249.9,966.0 1250.2,960.9 1250.8,955.5 C1251.3,950.1 1252.1,944.0 1252.8,938.6 C1253.5,933.2 1254.1,927.4 1254.7,923.0 C1255.3,918.6 1256.0,915.2 1256.5,912.0 C1257.0,908.8 1257.0,909.0 1257.4,904.0 C1257.8,899.0 1258.0,889.3 1258.8,882.0 C1259.6,874.7 1260.9,865.6 1262.1,860.0 C1263.3,854.4 1265.0,852.0 1266.0,848.2 C1267.0,844.4 1267.8,840.8 1268.4,837.2 C1269.0,833.7 1269.2,830.6 1269.6,826.9 C1270.0,823.2 1270.2,818.4 1270.7,815.1 C1271.2,811.8 1271.9,809.2 1272.7,807.2 C1273.5,805.2 1274.5,803.3 1275.5,803.3 C1276.5,803.3 1277.6,805.6 1278.6,807.2 C1279.6,808.8 1280.4,812.8 1281.4,812.8 C1282.4,812.8 1283.8,811.5 1284.5,809.6 C1285.2,807.8 1285.4,804.3 1285.7,801.7 C1286.0,799.1 1286.2,796.4 1286.5,793.9 C1286.8,791.4 1287.2,789.4 1287.7,786.8 C1288.2,784.2 1288.7,780.1 1289.6,778.1 C1290.5,776.1 1291.9,775.7 1293.0,775.0 C1294.1,774.3 1294.6,773.8 1296.0,773.8 C1297.4,773.8 1299.9,774.7 1301.5,775.7 C1303.1,776.7 1304.1,778.4 1305.4,779.7 C1306.7,781.0 1308.1,781.8 1309.3,783.6 C1310.5,785.4 1311.6,788.3 1312.5,790.7 C1313.4,793.1 1314.0,795.6 1314.8,797.8 C1315.6,800.0 1316.5,801.9 1317.2,804.1 C1317.9,806.3 1318.2,808.8 1318.8,811.2 C1319.4,813.6 1320.2,816.7 1321.1,818.3 C1322.0,819.9 1323.0,820.6 1324.3,820.6 C1325.5,820.6 1327.3,818.3 1328.6,818.3 C1329.9,818.3 1331.1,820.4 1332.2,823.0 C1333.3,825.6 1334.0,830.7 1335.0,834.0 C1336.0,837.3 1336.0,836.9 1338.2,842.8 C1340.4,848.7 1346.0,860.2 1348.4,869.4 C1350.8,878.6 1351.0,890.9 1352.5,898.1 C1354.0,905.3 1355.2,906.9 1357.6,912.4 C1360.0,917.9 1364.6,925.0 1366.8,930.8 C1369.0,936.6 1369.9,940.7 1370.9,947.2 C1371.9,953.7 1371.1,964.6 1373.0,969.7 C1374.9,974.8 1379.8,973.5 1382.2,977.9 C1384.6,982.3 1385.8,989.5 1387.3,996.3 C1388.8,1003.1 1389.4,1012.7 1391.4,1018.8 C1393.5,1024.9 1396.5,1029.0 1399.6,1033.1 C1402.7,1037.2 1407.1,1037.3 1409.8,1043.3 C1412.5,1049.3 1414.3,1068.5 1415.9,1068.9 C1417.5,1069.3 1418.1,1069.3 1419.5,1069.3 C1420.9,1069.3 1422.3,1067.9 1424.1,1067.9 C1425.9,1067.9 1427.9,1073.0 1430.3,1073.0 C1432.7,1073.0 1435.8,1070.9 1438.5,1069.9"/>
<line x1="58.5" y1="1086" x2="1439.5" y2="1086" stroke="#1e1e1e" stroke-width="3.6"/>
<line x1="60.0" y1="1086" x2="60.0" y2="1106.5" stroke="#1e1e1e" stroke-width="3.4"/>
<text transform="translate(60.0,1155.4) scale(1,1.04)" text-anchor="middle" class="tk">4000</text>
<line x1="256.9" y1="1086" x2="256.9" y2="1106.5" stroke="#1e1e1e" stroke-width="3.4"/>
<text transform="translate(256.9,1155.4) scale(1,1.04)" text-anchor="middle" class="tk">3500</text>
<line x1="453.7" y1="1086" x2="453.7" y2="1106.5" stroke="#1e1e1e" stroke-width="3.4"/>
<text transform="translate(453.7,1155.4) scale(1,1.04)" text-anchor="middle" class="tk">3000</text>
<line x1="650.6" y1="1086" x2="650.6" y2="1106.5" stroke="#1e1e1e" stroke-width="3.4"/>
<text transform="translate(650.6,1155.4) scale(1,1.04)" text-anchor="middle" class="tk">2500</text>
<line x1="847.4" y1="1086" x2="847.4" y2="1106.5" stroke="#1e1e1e" stroke-width="3.4"/>
<text transform="translate(847.4,1155.4) scale(1,1.04)" text-anchor="middle" class="tk">2000</text>
<line x1="1044.3" y1="1086" x2="1044.3" y2="1106.5" stroke="#1e1e1e" stroke-width="3.4"/>
<text transform="translate(1044.3,1155.4) scale(1,1.04)" text-anchor="middle" class="tk"><tspan class="hid">1</tspan>500</text>
<line x1="1241.1" y1="1086" x2="1241.1" y2="1106.5" stroke="#1e1e1e" stroke-width="3.4"/>
<text transform="translate(1241.1,1155.4) scale(1,1.04)" text-anchor="middle" class="tk"><tspan class="hid">1</tspan>000</text>
<line x1="1438.0" y1="1086" x2="1438.0" y2="1106.5" stroke="#1e1e1e" stroke-width="3.4"/>
<text transform="translate(1438.0,1155.4) scale(1,1.04)" text-anchor="middle" class="tk">500</text>
<line x1="158.4" y1="1086" x2="158.4" y2="1096.5" stroke="#1e1e1e" stroke-width="3.4"/>
<line x1="355.3" y1="1086" x2="355.3" y2="1096.5" stroke="#1e1e1e" stroke-width="3.4"/>
<line x1="552.1" y1="1086" x2="552.1" y2="1096.5" stroke="#1e1e1e" stroke-width="3.4"/>
<line x1="749.0" y1="1086" x2="749.0" y2="1096.5" stroke="#1e1e1e" stroke-width="3.4"/>
<line x1="945.9" y1="1086" x2="945.9" y2="1096.5" stroke="#1e1e1e" stroke-width="3.4"/>
<line x1="1142.7" y1="1086" x2="1142.7" y2="1096.5" stroke="#1e1e1e" stroke-width="3.4"/>
<line x1="1339.6" y1="1086" x2="1339.6" y2="1096.5" stroke="#1e1e1e" stroke-width="3.4"/>
<text transform="translate(47.5,126.6) scale(1,1.0)" class="lb">CNFs</text>
<text transform="translate(41.5,383.8) scale(1,1.0)" class="lb">T<tspan dx="2.5">O</tspan>C<tspan dx="-2">N</tspan>F<tspan dx="1">s</tspan><tspan dx="-1.5">-</tspan><tspan class="hid">1</tspan></text>
<text transform="translate(41.5,553.5) scale(1,1.0)" class="lb">T<tspan dx="2.5">O</tspan>C<tspan dx="-2">N</tspan>F<tspan dx="1">s</tspan><tspan dx="-1.5">-</tspan>2</text>
<text transform="translate(40,784.2) scale(1,1.0)" class="lb">TOCNFs-3</text>
<text transform="translate(531,1238.3) scale(1,1.0)" class="ttl">Wavenumber (cm<tspan class="sup" dx="-3" dy="-28.5">-<tspan class="hid">1</tspan></tspan><tspan dx="3" dy="28.5">)</tspan></text>
<path fill="#111" transform="translate(1000.53,1155.20) scale(0.02050,-0.01970)" d="M763,0 L583,0 L583,1147 Q518,1085 412.5,1023 Q307,961 222,929 L222,1103 Q373,1174 486,1275.5 Q599,1377 646,1472 L763,1472 Z"/>
<path fill="#111" transform="translate(1197.39,1155.20) scale(0.02050,-0.01970)" d="M763,0 L583,0 L583,1147 Q518,1085 412.5,1023 Q307,961 222,929 L222,1103 Q373,1174 486,1275.5 Q599,1377 646,1472 L763,1472 Z"/>
<path fill="#111" transform="translate(253.25,383.40) scale(0.02320,-0.02215)" d="M763,0 L583,0 L583,1147 Q518,1085 412.5,1023 Q307,961 222,929 L222,1103 Q373,1174 486,1275.5 Q599,1377 646,1472 L763,1472 Z"/>
<path fill="#111" transform="translate(931.28,1210.60) scale(0.01450,-0.01332)" d="M763,0 L583,0 L583,1147 Q518,1085 412.5,1023 Q307,961 222,929 L222,1103 Q373,1174 486,1275.5 Q599,1377 646,1472 L763,1472 Z"/>
</svg>
</body></html>
